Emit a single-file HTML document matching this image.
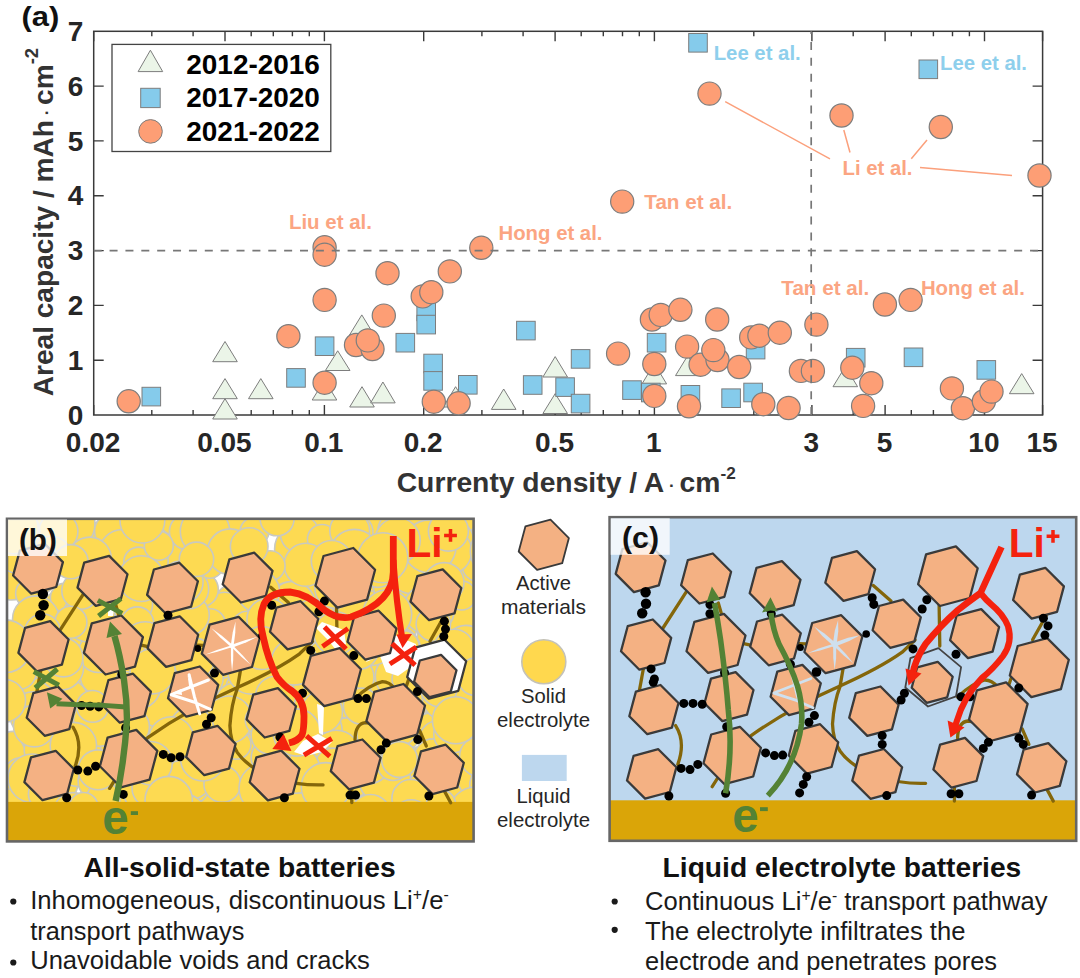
<!DOCTYPE html>
<html><head><meta charset="utf-8"><title>Figure</title>
<style>html,body{margin:0;padding:0;background:#fff}svg{display:block}text{font-family:"Liberation Sans",sans-serif}</style>
</head><body>
<svg width="1080" height="978" viewBox="0 0 1080 978">
<rect width="1080" height="978" fill="#fff"/>
<rect x="93.7" y="31.3" width="948.8999999999999" height="383.7" fill="none" stroke="#3a3a3a" stroke-width="1.5"/>
<path d="M93.7 415.0v-10M93.7 31.3v10M225.0 415.0v-10M225.0 31.3v10M324.4 415.0v-10M324.4 31.3v10M423.7 415.0v-10M423.7 31.3v10M555.1 415.0v-10M555.1 31.3v10M654.4 415.0v-10M654.4 31.3v10M811.9 415.0v-10M811.9 31.3v10M885.1 415.0v-10M885.1 31.3v10M984.5 415.0v-10M984.5 31.3v10M1042.6 415.0v-10M1042.6 31.3v10M151.8 415.0v-5M151.8 31.3v5M193.1 415.0v-5M193.1 31.3v5M251.2 415.0v-5M251.2 31.3v5M273.3 415.0v-5M273.3 31.3v5M292.4 415.0v-5M292.4 31.3v5M309.3 415.0v-5M309.3 31.3v5M481.9 415.0v-5M481.9 31.3v5M523.1 415.0v-5M523.1 31.3v5M581.2 415.0v-5M581.2 31.3v5M603.3 415.0v-5M603.3 31.3v5M622.5 415.0v-5M622.5 31.3v5M639.3 415.0v-5M639.3 31.3v5M753.8 415.0v-5M753.8 31.3v5M853.2 415.0v-5M853.2 31.3v5M911.3 415.0v-5M911.3 31.3v5M933.4 415.0v-5M933.4 31.3v5M952.5 415.0v-5M952.5 31.3v5M969.4 415.0v-5M969.4 31.3v5M93.7 360.2h10M1042.6 360.2h-10M93.7 305.4h10M1042.6 305.4h-10M93.7 250.6h10M1042.6 250.6h-10M93.7 195.8h10M1042.6 195.8h-10M93.7 140.9h10M1042.6 140.9h-10M93.7 86.1h10M1042.6 86.1h-10" stroke="#3a3a3a" stroke-width="1.4" fill="none"/>
<path d="M225 341.5L212.7 361.7L237.3 361.7Z" fill="#EBF5E8" stroke="#7d7d7d" stroke-width="1"/>
<path d="M225 378.6L212.7 398.7L237.3 398.7Z" fill="#EBF5E8" stroke="#7d7d7d" stroke-width="1"/>
<path d="M225 398.7L212.7 419L237.3 419Z" fill="#EBF5E8" stroke="#7d7d7d" stroke-width="1"/>
<path d="M260.8 378.6L248.5 398.7L273.1 398.7Z" fill="#EBF5E8" stroke="#7d7d7d" stroke-width="1"/>
<path d="M324.5 380L312.2 400L336.8 400Z" fill="#EBF5E8" stroke="#7d7d7d" stroke-width="1"/>
<path d="M337.7 350.8L325.4 370.5L350.0 370.5Z" fill="#EBF5E8" stroke="#7d7d7d" stroke-width="1"/>
<path d="M361.8 314.9L349.5 335L374.1 335Z" fill="#EBF5E8" stroke="#7d7d7d" stroke-width="1"/>
<path d="M362 386.7L349.7 407L374.3 407Z" fill="#EBF5E8" stroke="#7d7d7d" stroke-width="1"/>
<path d="M382.9 382L370.59999999999997 402.9L395.2 402.9Z" fill="#EBF5E8" stroke="#7d7d7d" stroke-width="1"/>
<path d="M455.6 386.7L443.3 407L467.90000000000003 407Z" fill="#EBF5E8" stroke="#7d7d7d" stroke-width="1"/>
<path d="M503.7 389L491.4 409.4L516.0 409.4Z" fill="#EBF5E8" stroke="#7d7d7d" stroke-width="1"/>
<path d="M555.2 356.6L542.9000000000001 377L567.5 377Z" fill="#EBF5E8" stroke="#7d7d7d" stroke-width="1"/>
<path d="M555.2 393.6L542.9000000000001 413.5L567.5 413.5Z" fill="#EBF5E8" stroke="#7d7d7d" stroke-width="1"/>
<path d="M654.3 363.5L642.0 383.9L666.5999999999999 383.9Z" fill="#EBF5E8" stroke="#7d7d7d" stroke-width="1"/>
<path d="M687.8 355.5L675.5 375.6L700.0999999999999 375.6Z" fill="#EBF5E8" stroke="#7d7d7d" stroke-width="1"/>
<path d="M845.3 366.5L833.0 386.7L857.5999999999999 386.7Z" fill="#EBF5E8" stroke="#7d7d7d" stroke-width="1"/>
<path d="M1021.7 373.6L1009.4000000000001 393.7L1034.0 393.7Z" fill="#EBF5E8" stroke="#7d7d7d" stroke-width="1"/>
<rect x="142.0" y="387.3" width="18.6" height="18.6" fill="#85CBEB" stroke="#7d7d7d" stroke-width="1"/>
<rect x="286.7" y="368.6" width="18.6" height="18.6" fill="#85CBEB" stroke="#7d7d7d" stroke-width="1"/>
<rect x="315.3" y="336.9" width="18.6" height="18.6" fill="#85CBEB" stroke="#7d7d7d" stroke-width="1"/>
<rect x="396.0" y="333.4" width="18.6" height="18.6" fill="#85CBEB" stroke="#7d7d7d" stroke-width="1"/>
<rect x="416.9" y="302.1" width="18.6" height="18.6" fill="#85CBEB" stroke="#7d7d7d" stroke-width="1"/>
<rect x="416.9" y="315.3" width="18.6" height="18.6" fill="#85CBEB" stroke="#7d7d7d" stroke-width="1"/>
<rect x="423.8" y="354.2" width="18.6" height="18.6" fill="#85CBEB" stroke="#7d7d7d" stroke-width="1"/>
<rect x="423.8" y="371.6" width="18.6" height="18.6" fill="#85CBEB" stroke="#7d7d7d" stroke-width="1"/>
<rect x="458.5" y="375.5" width="18.6" height="18.6" fill="#85CBEB" stroke="#7d7d7d" stroke-width="1"/>
<rect x="516.6" y="321.3" width="18.6" height="18.6" fill="#85CBEB" stroke="#7d7d7d" stroke-width="1"/>
<rect x="523.4" y="375.7" width="18.6" height="18.6" fill="#85CBEB" stroke="#7d7d7d" stroke-width="1"/>
<rect x="555.8" y="377.8" width="18.6" height="18.6" fill="#85CBEB" stroke="#7d7d7d" stroke-width="1"/>
<rect x="571.3" y="349.6" width="18.6" height="18.6" fill="#85CBEB" stroke="#7d7d7d" stroke-width="1"/>
<rect x="571.3" y="394.3" width="18.6" height="18.6" fill="#85CBEB" stroke="#7d7d7d" stroke-width="1"/>
<rect x="622.7" y="380.8" width="18.6" height="18.6" fill="#85CBEB" stroke="#7d7d7d" stroke-width="1"/>
<rect x="647.3" y="333.4" width="18.6" height="18.6" fill="#85CBEB" stroke="#7d7d7d" stroke-width="1"/>
<rect x="641.5" y="383.2" width="18.6" height="18.6" fill="#85CBEB" stroke="#7d7d7d" stroke-width="1"/>
<rect x="681.1" y="385.5" width="18.6" height="18.6" fill="#85CBEB" stroke="#7d7d7d" stroke-width="1"/>
<rect x="721.8" y="388.9" width="18.6" height="18.6" fill="#85CBEB" stroke="#7d7d7d" stroke-width="1"/>
<rect x="743.8" y="383.2" width="18.6" height="18.6" fill="#85CBEB" stroke="#7d7d7d" stroke-width="1"/>
<rect x="746.3" y="340.3" width="18.6" height="18.6" fill="#85CBEB" stroke="#7d7d7d" stroke-width="1"/>
<rect x="846.4" y="348.4" width="18.6" height="18.6" fill="#85CBEB" stroke="#7d7d7d" stroke-width="1"/>
<rect x="904.2" y="348.0" width="18.6" height="18.6" fill="#85CBEB" stroke="#7d7d7d" stroke-width="1"/>
<rect x="977.0" y="360.6" width="18.6" height="18.6" fill="#85CBEB" stroke="#7d7d7d" stroke-width="1"/>
<rect x="688.7" y="33.5" width="18.6" height="18.6" fill="#85CBEB" stroke="#7d7d7d" stroke-width="1"/>
<rect x="919.0" y="60.0" width="18.6" height="18.6" fill="#85CBEB" stroke="#7d7d7d" stroke-width="1"/>
<circle cx="128.7" cy="401.3" r="11.6" fill="#FD9E75" stroke="#7d7d7d" stroke-width="1.2"/>
<circle cx="288.4" cy="336.2" r="11.6" fill="#FD9E75" stroke="#7d7d7d" stroke-width="1.2"/>
<circle cx="324.6" cy="247.3" r="11.6" fill="#FD9E75" stroke="#7d7d7d" stroke-width="1.2"/>
<circle cx="324.6" cy="254.7" r="11.6" fill="#FD9E75" stroke="#7d7d7d" stroke-width="1.2"/>
<circle cx="324.6" cy="299.9" r="11.6" fill="#FD9E75" stroke="#7d7d7d" stroke-width="1.2"/>
<circle cx="324.6" cy="382.7" r="11.6" fill="#FD9E75" stroke="#7d7d7d" stroke-width="1.2"/>
<circle cx="356" cy="345" r="11.6" fill="#FD9E75" stroke="#7d7d7d" stroke-width="1.2"/>
<circle cx="372.5" cy="349" r="11.6" fill="#FD9E75" stroke="#7d7d7d" stroke-width="1.2"/>
<circle cx="367.8" cy="340.4" r="11.6" fill="#FD9E75" stroke="#7d7d7d" stroke-width="1.2"/>
<circle cx="387.5" cy="273.2" r="11.6" fill="#FD9E75" stroke="#7d7d7d" stroke-width="1.2"/>
<circle cx="383.8" cy="315.6" r="11.6" fill="#FD9E75" stroke="#7d7d7d" stroke-width="1.2"/>
<circle cx="422.7" cy="296.4" r="11.6" fill="#FD9E75" stroke="#7d7d7d" stroke-width="1.2"/>
<circle cx="431.3" cy="292.2" r="11.6" fill="#FD9E75" stroke="#7d7d7d" stroke-width="1.2"/>
<circle cx="449.8" cy="271.4" r="11.6" fill="#FD9E75" stroke="#7d7d7d" stroke-width="1.2"/>
<circle cx="481.3" cy="247.8" r="11.6" fill="#FD9E75" stroke="#7d7d7d" stroke-width="1.2"/>
<circle cx="433.8" cy="401.7" r="11.6" fill="#FD9E75" stroke="#7d7d7d" stroke-width="1.2"/>
<circle cx="458.6" cy="403.3" r="11.6" fill="#FD9E75" stroke="#7d7d7d" stroke-width="1.2"/>
<circle cx="618.1" cy="353.6" r="11.6" fill="#FD9E75" stroke="#7d7d7d" stroke-width="1.2"/>
<circle cx="651.9" cy="319.5" r="11.6" fill="#FD9E75" stroke="#7d7d7d" stroke-width="1.2"/>
<circle cx="660.7" cy="314.9" r="11.6" fill="#FD9E75" stroke="#7d7d7d" stroke-width="1.2"/>
<circle cx="680.4" cy="309.8" r="11.6" fill="#FD9E75" stroke="#7d7d7d" stroke-width="1.2"/>
<circle cx="654.3" cy="364" r="11.6" fill="#FD9E75" stroke="#7d7d7d" stroke-width="1.2"/>
<circle cx="654.3" cy="395.9" r="11.6" fill="#FD9E75" stroke="#7d7d7d" stroke-width="1.2"/>
<circle cx="717.2" cy="319.5" r="11.6" fill="#FD9E75" stroke="#7d7d7d" stroke-width="1.2"/>
<circle cx="687.1" cy="346.6" r="11.6" fill="#FD9E75" stroke="#7d7d7d" stroke-width="1.2"/>
<circle cx="700.6" cy="364.7" r="11.6" fill="#FD9E75" stroke="#7d7d7d" stroke-width="1.2"/>
<circle cx="717.5" cy="360" r="11.6" fill="#FD9E75" stroke="#7d7d7d" stroke-width="1.2"/>
<circle cx="713.3" cy="350.1" r="11.6" fill="#FD9E75" stroke="#7d7d7d" stroke-width="1.2"/>
<circle cx="739.2" cy="367" r="11.6" fill="#FD9E75" stroke="#7d7d7d" stroke-width="1.2"/>
<circle cx="689" cy="406.3" r="11.6" fill="#FD9E75" stroke="#7d7d7d" stroke-width="1.2"/>
<circle cx="751.2" cy="337.4" r="11.6" fill="#FD9E75" stroke="#7d7d7d" stroke-width="1.2"/>
<circle cx="759.4" cy="335.7" r="11.6" fill="#FD9E75" stroke="#7d7d7d" stroke-width="1.2"/>
<circle cx="779.8" cy="332.7" r="11.6" fill="#FD9E75" stroke="#7d7d7d" stroke-width="1.2"/>
<circle cx="763.3" cy="404.2" r="11.6" fill="#FD9E75" stroke="#7d7d7d" stroke-width="1.2"/>
<circle cx="788.6" cy="408" r="11.6" fill="#FD9E75" stroke="#7d7d7d" stroke-width="1.2"/>
<circle cx="800.9" cy="370.9" r="11.6" fill="#FD9E75" stroke="#7d7d7d" stroke-width="1.2"/>
<circle cx="812.9" cy="370.9" r="11.6" fill="#FD9E75" stroke="#7d7d7d" stroke-width="1.2"/>
<circle cx="816.4" cy="324.6" r="11.6" fill="#FD9E75" stroke="#7d7d7d" stroke-width="1.2"/>
<circle cx="852.3" cy="367.7" r="11.6" fill="#FD9E75" stroke="#7d7d7d" stroke-width="1.2"/>
<circle cx="871.3" cy="383.2" r="11.6" fill="#FD9E75" stroke="#7d7d7d" stroke-width="1.2"/>
<circle cx="863.1" cy="405.9" r="11.6" fill="#FD9E75" stroke="#7d7d7d" stroke-width="1.2"/>
<circle cx="884.9" cy="304.5" r="11.6" fill="#FD9E75" stroke="#7d7d7d" stroke-width="1.2"/>
<circle cx="910.6" cy="299.9" r="11.6" fill="#FD9E75" stroke="#7d7d7d" stroke-width="1.2"/>
<circle cx="951.9" cy="388.4" r="11.6" fill="#FD9E75" stroke="#7d7d7d" stroke-width="1.2"/>
<circle cx="962.9" cy="408.2" r="11.6" fill="#FD9E75" stroke="#7d7d7d" stroke-width="1.2"/>
<circle cx="983.9" cy="401.2" r="11.6" fill="#FD9E75" stroke="#7d7d7d" stroke-width="1.2"/>
<circle cx="991.5" cy="391.6" r="11.6" fill="#FD9E75" stroke="#7d7d7d" stroke-width="1.2"/>
<circle cx="709.5" cy="93.6" r="11.6" fill="#FD9E75" stroke="#7d7d7d" stroke-width="1.2"/>
<circle cx="622.2" cy="201.6" r="11.6" fill="#FD9E75" stroke="#7d7d7d" stroke-width="1.2"/>
<circle cx="841.5" cy="115.5" r="11.6" fill="#FD9E75" stroke="#7d7d7d" stroke-width="1.2"/>
<circle cx="940.8" cy="127" r="11.6" fill="#FD9E75" stroke="#7d7d7d" stroke-width="1.2"/>
<circle cx="1039.5" cy="175.5" r="11.6" fill="#FD9E75" stroke="#7d7d7d" stroke-width="1.2"/>
<path d="M93.7 250.6H1042.6" stroke="#777" stroke-width="1.7" stroke-dasharray="8 7.87" fill="none"/>
<path d="M811.2 415.0V31.3" stroke="#777" stroke-width="1.7" stroke-dasharray="8 7.87" fill="none"/>
<path d="M725.2 101.7L830 158.8M843.8 130L850 152.5M927 140L911.3 158.8M920 167.5L1012 175.5" stroke="#FBA07C" stroke-width="1.5" fill="none"/>
<text x="713.7" y="59.9" font-size="20.3" font-weight="bold" fill="#8ECFEC" text-anchor="start" textLength="87" lengthAdjust="spacingAndGlyphs">Lee et al.</text>
<text x="940" y="70" font-size="20.3" font-weight="bold" fill="#8ECFEC" text-anchor="start" textLength="87" lengthAdjust="spacingAndGlyphs">Lee et al.</text>
<text x="842.5" y="174.5" font-size="20.3" font-weight="bold" fill="#FBA582" text-anchor="start" textLength="70" lengthAdjust="spacingAndGlyphs">Li et al.</text>
<text x="644.3" y="209.4" font-size="20.3" font-weight="bold" fill="#FBA582" text-anchor="start" textLength="88" lengthAdjust="spacingAndGlyphs">Tan et al.</text>
<text x="288.9" y="229" font-size="20.3" font-weight="bold" fill="#FBA582" text-anchor="start" textLength="83" lengthAdjust="spacingAndGlyphs">Liu et al.</text>
<text x="498.5" y="240.3" font-size="20.3" font-weight="bold" fill="#FBA582" text-anchor="start" textLength="104" lengthAdjust="spacingAndGlyphs">Hong et al.</text>
<text x="781.3" y="294.8" font-size="20.3" font-weight="bold" fill="#FBA582" text-anchor="start" textLength="88" lengthAdjust="spacingAndGlyphs">Tan et al.</text>
<text x="920.9" y="294.8" font-size="20.3" font-weight="bold" fill="#FBA582" text-anchor="start" textLength="104" lengthAdjust="spacingAndGlyphs">Hong et al.</text>
<text x="83.4" y="424.6" font-size="28" font-weight="bold" fill="#262626" text-anchor="end">0</text>
<text x="83.4" y="369.79" font-size="28" font-weight="bold" fill="#262626" text-anchor="end">1</text>
<text x="83.4" y="314.98" font-size="28" font-weight="bold" fill="#262626" text-anchor="end">2</text>
<text x="83.4" y="260.17" font-size="28" font-weight="bold" fill="#262626" text-anchor="end">3</text>
<text x="83.4" y="205.35999999999999" font-size="28" font-weight="bold" fill="#262626" text-anchor="end">4</text>
<text x="83.4" y="150.54999999999998" font-size="28" font-weight="bold" fill="#262626" text-anchor="end">5</text>
<text x="83.4" y="95.73999999999998" font-size="28" font-weight="bold" fill="#262626" text-anchor="end">6</text>
<text x="83.4" y="40.929999999999986" font-size="28" font-weight="bold" fill="#262626" text-anchor="end">7</text>
<text x="93.1" y="452.2" font-size="28" font-weight="bold" fill="#262626" text-anchor="middle">0.02</text>
<text x="224.4" y="452.2" font-size="28" font-weight="bold" fill="#262626" text-anchor="middle">0.05</text>
<text x="323.8" y="452.2" font-size="28" font-weight="bold" fill="#262626" text-anchor="middle">0.1</text>
<text x="423.1" y="452.2" font-size="28" font-weight="bold" fill="#262626" text-anchor="middle">0.2</text>
<text x="554.5" y="452.2" font-size="28" font-weight="bold" fill="#262626" text-anchor="middle">0.5</text>
<text x="653.8" y="452.2" font-size="28" font-weight="bold" fill="#262626" text-anchor="middle">1</text>
<text x="811.3" y="452.2" font-size="28" font-weight="bold" fill="#262626" text-anchor="middle">3</text>
<text x="884.5" y="452.2" font-size="28" font-weight="bold" fill="#262626" text-anchor="middle">5</text>
<text x="983.9" y="452.2" font-size="28" font-weight="bold" fill="#262626" text-anchor="middle">10</text>
<text x="1042.0" y="452.2" font-size="28" font-weight="bold" fill="#262626" text-anchor="middle">15</text>
<text x="396.7" y="492.2" font-size="28" font-weight="bold" fill="#333" textLength="339" lengthAdjust="spacingAndGlyphs">Currenty density / A<tspan font-size="17" dy="-1"> · </tspan><tspan dy="1">cm</tspan><tspan font-size="17" dy="-13">-2</tspan></text>
<text transform="translate(53 396.3) rotate(-90)" font-size="28" font-weight="bold" fill="#333" textLength="348.5" lengthAdjust="spacingAndGlyphs">Areal capacity / mAh<tspan font-size="17" dy="-1"> · </tspan><tspan dy="1">cm</tspan><tspan font-size="18.5" dy="-15.5">-2</tspan></text>
<text x="21.5" y="25.6" font-size="28" font-weight="bold" fill="#111" text-anchor="start" textLength="37.8" lengthAdjust="spacingAndGlyphs">(a)</text>
<rect x="112" y="44.4" width="218.8" height="107.1" fill="#fff" stroke="#444" stroke-width="1.3"/>
<path d="M150.4 50.2L138.1 71.6L162.7 71.6Z" fill="#EBF5E8" stroke="#7d7d7d" stroke-width="1"/>
<rect x="140.7" y="88.3" width="19.5" height="19.3" fill="#85CBEB" stroke="#7d7d7d" stroke-width="1"/>
<circle cx="150.5" cy="131.4" r="11.8" fill="#FD9E75" stroke="#7d7d7d" stroke-width="1"/>
<text x="186.3" y="74" font-size="28" font-weight="bold" fill="#000" text-anchor="start" textLength="133.6" lengthAdjust="spacingAndGlyphs">2012-2016</text>
<text x="186.3" y="107.2" font-size="28" font-weight="bold" fill="#000" text-anchor="start" textLength="133.6" lengthAdjust="spacingAndGlyphs">2017-2020</text>
<text x="186.3" y="140.6" font-size="28" font-weight="bold" fill="#000" text-anchor="start" textLength="133.6" lengthAdjust="spacingAndGlyphs">2021-2022</text>
<clipPath id="clipb"><rect x="7.0" y="518.8" width="466.6" height="322.6"/></clipPath>
<g clip-path="url(#clipb)">
<rect x="7.0" y="518.8" width="466.6" height="322.6" fill="#fff"/>
<circle cx="336.8" cy="628.7" r="22.6" fill="#FDDA52" stroke="#C9C9C0" stroke-width="1.6"/>
<circle cx="208.3" cy="734.6" r="18.2" fill="#FDDA52" stroke="#C9C9C0" stroke-width="1.6"/>
<circle cx="41.9" cy="820.9" r="18.5" fill="#FDDA52" stroke="#C9C9C0" stroke-width="1.6"/>
<circle cx="319.5" cy="614.5" r="21.6" fill="#FDDA52" stroke="#C9C9C0" stroke-width="1.6"/>
<circle cx="463.2" cy="777.0" r="16.0" fill="#FDDA52" stroke="#C9C9C0" stroke-width="1.6"/>
<circle cx="314.7" cy="520.2" r="19.2" fill="#FDDA52" stroke="#C9C9C0" stroke-width="1.6"/>
<circle cx="422.2" cy="764.0" r="17.8" fill="#FDDA52" stroke="#C9C9C0" stroke-width="1.6"/>
<circle cx="13.2" cy="749.5" r="18.1" fill="#FDDA52" stroke="#C9C9C0" stroke-width="1.6"/>
<circle cx="313.2" cy="576.5" r="21.3" fill="#FDDA52" stroke="#C9C9C0" stroke-width="1.6"/>
<circle cx="101.8" cy="539.1" r="17.5" fill="#FDDA52" stroke="#C9C9C0" stroke-width="1.6"/>
<circle cx="221.4" cy="829.6" r="22.3" fill="#FDDA52" stroke="#C9C9C0" stroke-width="1.6"/>
<circle cx="470.5" cy="519.5" r="18.5" fill="#FDDA52" stroke="#C9C9C0" stroke-width="1.6"/>
<circle cx="39.3" cy="735.7" r="18.8" fill="#FDDA52" stroke="#C9C9C0" stroke-width="1.6"/>
<circle cx="314.3" cy="680.6" r="16.8" fill="#FDDA52" stroke="#C9C9C0" stroke-width="1.6"/>
<circle cx="424.7" cy="710.8" r="20.8" fill="#FDDA52" stroke="#C9C9C0" stroke-width="1.6"/>
<circle cx="431.1" cy="731.2" r="18.3" fill="#FDDA52" stroke="#C9C9C0" stroke-width="1.6"/>
<circle cx="251.5" cy="826.4" r="18.9" fill="#FDDA52" stroke="#C9C9C0" stroke-width="1.6"/>
<circle cx="263.6" cy="720.9" r="19.3" fill="#FDDA52" stroke="#C9C9C0" stroke-width="1.6"/>
<circle cx="386.0" cy="833.3" r="21.4" fill="#FDDA52" stroke="#C9C9C0" stroke-width="1.6"/>
<circle cx="372.7" cy="803.1" r="14.1" fill="#FDDA52" stroke="#C9C9C0" stroke-width="1.6"/>
<circle cx="244.6" cy="560.6" r="16.0" fill="#FDDA52" stroke="#C9C9C0" stroke-width="1.6"/>
<circle cx="55.1" cy="715.9" r="22.4" fill="#FDDA52" stroke="#C9C9C0" stroke-width="1.6"/>
<circle cx="177.3" cy="517.0" r="19.2" fill="#FDDA52" stroke="#C9C9C0" stroke-width="1.6"/>
<circle cx="77.0" cy="687.2" r="17.7" fill="#FDDA52" stroke="#C9C9C0" stroke-width="1.6"/>
<circle cx="315.7" cy="742.5" r="17.9" fill="#FDDA52" stroke="#C9C9C0" stroke-width="1.6"/>
<circle cx="211.6" cy="700.5" r="24.4" fill="#FDDA52" stroke="#C9C9C0" stroke-width="1.6"/>
<circle cx="222.3" cy="676.1" r="17.0" fill="#FDDA52" stroke="#C9C9C0" stroke-width="1.6"/>
<circle cx="422.7" cy="790.0" r="17.0" fill="#FDDA52" stroke="#C9C9C0" stroke-width="1.6"/>
<circle cx="274.5" cy="636.4" r="17.5" fill="#FDDA52" stroke="#C9C9C0" stroke-width="1.6"/>
<circle cx="418.7" cy="834.1" r="20.3" fill="#FDDA52" stroke="#C9C9C0" stroke-width="1.6"/>
<circle cx="52.0" cy="528.6" r="26.2" fill="#FDDA52" stroke="#C9C9C0" stroke-width="1.6"/>
<circle cx="299.2" cy="548.9" r="24.6" fill="#FDDA52" stroke="#C9C9C0" stroke-width="1.6"/>
<circle cx="317.1" cy="593.9" r="23.1" fill="#FDDA52" stroke="#C9C9C0" stroke-width="1.6"/>
<circle cx="11.8" cy="579.8" r="20.2" fill="#FDDA52" stroke="#C9C9C0" stroke-width="1.6"/>
<circle cx="308.5" cy="698.2" r="20.6" fill="#FDDA52" stroke="#C9C9C0" stroke-width="1.6"/>
<circle cx="254.3" cy="618.9" r="23.5" fill="#FDDA52" stroke="#C9C9C0" stroke-width="1.6"/>
<circle cx="232.5" cy="768.9" r="24.0" fill="#FDDA52" stroke="#C9C9C0" stroke-width="1.6"/>
<circle cx="272.5" cy="682.6" r="19.3" fill="#FDDA52" stroke="#C9C9C0" stroke-width="1.6"/>
<circle cx="41.0" cy="677.5" r="20.9" fill="#FDDA52" stroke="#C9C9C0" stroke-width="1.6"/>
<circle cx="355.1" cy="779.4" r="17.3" fill="#FDDA52" stroke="#C9C9C0" stroke-width="1.6"/>
<circle cx="418.7" cy="677.5" r="22.0" fill="#FDDA52" stroke="#C9C9C0" stroke-width="1.6"/>
<circle cx="101.9" cy="590.6" r="22.3" fill="#FDDA52" stroke="#C9C9C0" stroke-width="1.6"/>
<circle cx="414.0" cy="699.5" r="17.1" fill="#FDDA52" stroke="#C9C9C0" stroke-width="1.6"/>
<circle cx="341.0" cy="574.1" r="20.5" fill="#FDDA52" stroke="#C9C9C0" stroke-width="1.6"/>
<circle cx="118.7" cy="531.9" r="23.0" fill="#FDDA52" stroke="#C9C9C0" stroke-width="1.6"/>
<circle cx="249.4" cy="757.7" r="23.2" fill="#FDDA52" stroke="#C9C9C0" stroke-width="1.6"/>
<circle cx="106.9" cy="738.4" r="19.0" fill="#FDDA52" stroke="#C9C9C0" stroke-width="1.6"/>
<circle cx="340.8" cy="803.5" r="15.3" fill="#FDDA52" stroke="#C9C9C0" stroke-width="1.6"/>
<circle cx="369.5" cy="698.1" r="26.2" fill="#FDDA52" stroke="#C9C9C0" stroke-width="1.6"/>
<circle cx="138.8" cy="693.3" r="26.9" fill="#FDDA52" stroke="#C9C9C0" stroke-width="1.6"/>
<circle cx="435.3" cy="817.6" r="26.4" fill="#FDDA52" stroke="#C9C9C0" stroke-width="1.6"/>
<circle cx="217.1" cy="534.9" r="18.1" fill="#FDDA52" stroke="#C9C9C0" stroke-width="1.6"/>
<circle cx="445.0" cy="697.6" r="22.8" fill="#FDDA52" stroke="#C9C9C0" stroke-width="1.6"/>
<circle cx="60.1" cy="763.6" r="17.9" fill="#FDDA52" stroke="#C9C9C0" stroke-width="1.6"/>
<circle cx="68.5" cy="524.2" r="26.4" fill="#FDDA52" stroke="#C9C9C0" stroke-width="1.6"/>
<circle cx="394.8" cy="603.8" r="19.3" fill="#FDDA52" stroke="#C9C9C0" stroke-width="1.6"/>
<circle cx="123.5" cy="616.4" r="24.7" fill="#FDDA52" stroke="#C9C9C0" stroke-width="1.6"/>
<circle cx="366.0" cy="731.0" r="17.5" fill="#FDDA52" stroke="#C9C9C0" stroke-width="1.6"/>
<circle cx="373.2" cy="590.8" r="25.5" fill="#FDDA52" stroke="#C9C9C0" stroke-width="1.6"/>
<circle cx="52.0" cy="780.2" r="26.5" fill="#FDDA52" stroke="#C9C9C0" stroke-width="1.6"/>
<circle cx="119.8" cy="706.3" r="15.5" fill="#FDDA52" stroke="#C9C9C0" stroke-width="1.6"/>
<circle cx="292.2" cy="824.1" r="18.5" fill="#FDDA52" stroke="#C9C9C0" stroke-width="1.6"/>
<circle cx="347.8" cy="735.3" r="17.6" fill="#FDDA52" stroke="#C9C9C0" stroke-width="1.6"/>
<circle cx="146.6" cy="797.8" r="21.8" fill="#FDDA52" stroke="#C9C9C0" stroke-width="1.6"/>
<circle cx="384.6" cy="778.4" r="25.9" fill="#FDDA52" stroke="#C9C9C0" stroke-width="1.6"/>
<circle cx="241.9" cy="588.2" r="18.3" fill="#FDDA52" stroke="#C9C9C0" stroke-width="1.6"/>
<circle cx="289.8" cy="791.4" r="22.2" fill="#FDDA52" stroke="#C9C9C0" stroke-width="1.6"/>
<circle cx="151.4" cy="648.2" r="17.6" fill="#FDDA52" stroke="#C9C9C0" stroke-width="1.6"/>
<circle cx="491.3" cy="542.4" r="23.1" fill="#FDDA52" stroke="#C9C9C0" stroke-width="1.6"/>
<circle cx="110.1" cy="623.5" r="21.5" fill="#FDDA52" stroke="#C9C9C0" stroke-width="1.6"/>
<circle cx="235.9" cy="529.6" r="18.4" fill="#FDDA52" stroke="#C9C9C0" stroke-width="1.6"/>
<circle cx="415.6" cy="582.1" r="21.9" fill="#FDDA52" stroke="#C9C9C0" stroke-width="1.6"/>
<circle cx="100.9" cy="836.0" r="23.9" fill="#FDDA52" stroke="#C9C9C0" stroke-width="1.6"/>
<circle cx="154.2" cy="595.7" r="17.6" fill="#FDDA52" stroke="#C9C9C0" stroke-width="1.6"/>
<circle cx="279.1" cy="809.4" r="19.0" fill="#FDDA52" stroke="#C9C9C0" stroke-width="1.6"/>
<circle cx="221.5" cy="661.7" r="16.7" fill="#FDDA52" stroke="#C9C9C0" stroke-width="1.6"/>
<circle cx="423.8" cy="653.1" r="14.0" fill="#FDDA52" stroke="#C9C9C0" stroke-width="1.6"/>
<circle cx="438.3" cy="637.3" r="21.1" fill="#FDDA52" stroke="#C9C9C0" stroke-width="1.6"/>
<circle cx="299.4" cy="810.5" r="17.8" fill="#FDDA52" stroke="#C9C9C0" stroke-width="1.6"/>
<circle cx="112.7" cy="531.2" r="18.1" fill="#FDDA52" stroke="#C9C9C0" stroke-width="1.6"/>
<circle cx="339.2" cy="822.4" r="20.6" fill="#FDDA52" stroke="#C9C9C0" stroke-width="1.6"/>
<circle cx="19.2" cy="550.6" r="23.0" fill="#FDDA52" stroke="#C9C9C0" stroke-width="1.6"/>
<circle cx="504.0" cy="741.4" r="14.9" fill="#FDDA52" stroke="#C9C9C0" stroke-width="1.6"/>
<circle cx="472.0" cy="792.4" r="17.9" fill="#FDDA52" stroke="#C9C9C0" stroke-width="1.6"/>
<circle cx="254.5" cy="531.6" r="14.4" fill="#FDDA52" stroke="#C9C9C0" stroke-width="1.6"/>
<circle cx="497.6" cy="589.3" r="19.8" fill="#FDDA52" stroke="#C9C9C0" stroke-width="1.6"/>
<circle cx="103.4" cy="755.7" r="20.1" fill="#FDDA52" stroke="#C9C9C0" stroke-width="1.6"/>
<circle cx="417.9" cy="531.1" r="19.4" fill="#FDDA52" stroke="#C9C9C0" stroke-width="1.6"/>
<circle cx="203.0" cy="676.8" r="19.7" fill="#FDDA52" stroke="#C9C9C0" stroke-width="1.6"/>
<circle cx="279.2" cy="590.0" r="23.3" fill="#FDDA52" stroke="#C9C9C0" stroke-width="1.6"/>
<circle cx="299.5" cy="533.7" r="19.1" fill="#FDDA52" stroke="#C9C9C0" stroke-width="1.6"/>
<circle cx="246.9" cy="689.9" r="21.3" fill="#FDDA52" stroke="#C9C9C0" stroke-width="1.6"/>
<circle cx="390.8" cy="710.8" r="15.2" fill="#FDDA52" stroke="#C9C9C0" stroke-width="1.6"/>
<circle cx="57.7" cy="829.3" r="21.1" fill="#FDDA52" stroke="#C9C9C0" stroke-width="1.6"/>
<circle cx="377.7" cy="569.0" r="18.4" fill="#FDDA52" stroke="#C9C9C0" stroke-width="1.6"/>
<circle cx="497.2" cy="612.1" r="22.3" fill="#FDDA52" stroke="#C9C9C0" stroke-width="1.6"/>
<circle cx="403.5" cy="734.1" r="16.5" fill="#FDDA52" stroke="#C9C9C0" stroke-width="1.6"/>
<circle cx="78.4" cy="760.7" r="25.8" fill="#FDDA52" stroke="#C9C9C0" stroke-width="1.6"/>
<circle cx="322.2" cy="539.3" r="14.8" fill="#FDDA52" stroke="#C9C9C0" stroke-width="1.6"/>
<circle cx="463.5" cy="622.8" r="17.8" fill="#FDDA52" stroke="#C9C9C0" stroke-width="1.6"/>
<circle cx="382.3" cy="525.4" r="23.8" fill="#FDDA52" stroke="#C9C9C0" stroke-width="1.6"/>
<circle cx="23.0" cy="778.1" r="20.9" fill="#FDDA52" stroke="#C9C9C0" stroke-width="1.6"/>
<circle cx="173.7" cy="749.7" r="24.0" fill="#FDDA52" stroke="#C9C9C0" stroke-width="1.6"/>
<circle cx="38.2" cy="576.1" r="18.5" fill="#FDDA52" stroke="#C9C9C0" stroke-width="1.6"/>
<circle cx="315.5" cy="731.4" r="26.8" fill="#FDDA52" stroke="#C9C9C0" stroke-width="1.6"/>
<circle cx="4.8" cy="809.3" r="20.7" fill="#FDDA52" stroke="#C9C9C0" stroke-width="1.6"/>
<circle cx="211.6" cy="793.2" r="15.1" fill="#FDDA52" stroke="#C9C9C0" stroke-width="1.6"/>
<circle cx="196.3" cy="717.9" r="22.0" fill="#FDDA52" stroke="#C9C9C0" stroke-width="1.6"/>
<circle cx="356.3" cy="595.7" r="18.4" fill="#FDDA52" stroke="#C9C9C0" stroke-width="1.6"/>
<circle cx="117.8" cy="703.3" r="19.5" fill="#FDDA52" stroke="#C9C9C0" stroke-width="1.6"/>
<circle cx="454.5" cy="666.9" r="26.8" fill="#FDDA52" stroke="#C9C9C0" stroke-width="1.6"/>
<circle cx="41.8" cy="750.0" r="17.6" fill="#FDDA52" stroke="#C9C9C0" stroke-width="1.6"/>
<circle cx="262.6" cy="777.1" r="15.5" fill="#FDDA52" stroke="#C9C9C0" stroke-width="1.6"/>
<circle cx="145.5" cy="746.4" r="19.8" fill="#FDDA52" stroke="#C9C9C0" stroke-width="1.6"/>
<circle cx="170.4" cy="561.1" r="18.3" fill="#FDDA52" stroke="#C9C9C0" stroke-width="1.6"/>
<circle cx="397.2" cy="626.0" r="19.9" fill="#FDDA52" stroke="#C9C9C0" stroke-width="1.6"/>
<circle cx="230.9" cy="600.4" r="15.0" fill="#FDDA52" stroke="#C9C9C0" stroke-width="1.6"/>
<circle cx="484.7" cy="834.8" r="18.4" fill="#FDDA52" stroke="#C9C9C0" stroke-width="1.6"/>
<circle cx="187.2" cy="783.1" r="23.1" fill="#FDDA52" stroke="#C9C9C0" stroke-width="1.6"/>
<circle cx="224.7" cy="616.1" r="23.9" fill="#FDDA52" stroke="#C9C9C0" stroke-width="1.6"/>
<circle cx="122.4" cy="823.5" r="23.3" fill="#FDDA52" stroke="#C9C9C0" stroke-width="1.6"/>
<circle cx="462.7" cy="614.8" r="26.8" fill="#FDDA52" stroke="#C9C9C0" stroke-width="1.6"/>
<circle cx="454.0" cy="830.9" r="16.5" fill="#FDDA52" stroke="#C9C9C0" stroke-width="1.6"/>
<circle cx="438.2" cy="739.9" r="19.2" fill="#FDDA52" stroke="#C9C9C0" stroke-width="1.6"/>
<circle cx="172.3" cy="700.5" r="21.7" fill="#FDDA52" stroke="#C9C9C0" stroke-width="1.6"/>
<circle cx="134.6" cy="821.6" r="20.7" fill="#FDDA52" stroke="#C9C9C0" stroke-width="1.6"/>
<circle cx="201.0" cy="589.5" r="17.3" fill="#FDDA52" stroke="#C9C9C0" stroke-width="1.6"/>
<circle cx="180.0" cy="633.2" r="18.6" fill="#FDDA52" stroke="#C9C9C0" stroke-width="1.6"/>
<circle cx="440.7" cy="686.1" r="20.9" fill="#FDDA52" stroke="#C9C9C0" stroke-width="1.6"/>
<circle cx="273.6" cy="801.1" r="23.7" fill="#FDDA52" stroke="#C9C9C0" stroke-width="1.6"/>
<circle cx="433.2" cy="758.3" r="19.4" fill="#FDDA52" stroke="#C9C9C0" stroke-width="1.6"/>
<circle cx="290.0" cy="603.8" r="21.9" fill="#FDDA52" stroke="#C9C9C0" stroke-width="1.6"/>
<circle cx="26.1" cy="831.3" r="23.2" fill="#FDDA52" stroke="#C9C9C0" stroke-width="1.6"/>
<circle cx="455.5" cy="792.0" r="23.2" fill="#FDDA52" stroke="#C9C9C0" stroke-width="1.6"/>
<circle cx="302.3" cy="800.9" r="16.6" fill="#FDDA52" stroke="#C9C9C0" stroke-width="1.6"/>
<circle cx="353.6" cy="532.5" r="19.4" fill="#FDDA52" stroke="#C9C9C0" stroke-width="1.6"/>
<circle cx="32.3" cy="778.3" r="24.3" fill="#FDDA52" stroke="#C9C9C0" stroke-width="1.6"/>
<circle cx="284.5" cy="671.9" r="25.9" fill="#FDDA52" stroke="#C9C9C0" stroke-width="1.6"/>
<circle cx="162.5" cy="614.4" r="24.6" fill="#FDDA52" stroke="#C9C9C0" stroke-width="1.6"/>
<circle cx="411.7" cy="570.3" r="23.5" fill="#FDDA52" stroke="#C9C9C0" stroke-width="1.6"/>
<circle cx="133.2" cy="773.1" r="20.4" fill="#FDDA52" stroke="#C9C9C0" stroke-width="1.6"/>
<circle cx="44.8" cy="794.0" r="16.4" fill="#FDDA52" stroke="#C9C9C0" stroke-width="1.6"/>
<circle cx="368.2" cy="760.2" r="23.6" fill="#FDDA52" stroke="#C9C9C0" stroke-width="1.6"/>
<circle cx="292.5" cy="604.0" r="22.5" fill="#FDDA52" stroke="#C9C9C0" stroke-width="1.6"/>
<circle cx="101.6" cy="572.2" r="22.2" fill="#FDDA52" stroke="#C9C9C0" stroke-width="1.6"/>
<circle cx="164.1" cy="734.4" r="18.4" fill="#FDDA52" stroke="#C9C9C0" stroke-width="1.6"/>
<circle cx="396.2" cy="723.3" r="23.5" fill="#FDDA52" stroke="#C9C9C0" stroke-width="1.6"/>
<circle cx="116.0" cy="679.2" r="17.1" fill="#FDDA52" stroke="#C9C9C0" stroke-width="1.6"/>
<circle cx="131.6" cy="672.1" r="20.7" fill="#FDDA52" stroke="#C9C9C0" stroke-width="1.6"/>
<circle cx="301.4" cy="637.9" r="18.8" fill="#FDDA52" stroke="#C9C9C0" stroke-width="1.6"/>
<circle cx="397.1" cy="650.6" r="23.7" fill="#FDDA52" stroke="#C9C9C0" stroke-width="1.6"/>
<circle cx="222.0" cy="722.3" r="22.9" fill="#FDDA52" stroke="#C9C9C0" stroke-width="1.6"/>
<circle cx="496.2" cy="661.4" r="20.1" fill="#FDDA52" stroke="#C9C9C0" stroke-width="1.6"/>
<circle cx="187.4" cy="531.6" r="18.0" fill="#FDDA52" stroke="#C9C9C0" stroke-width="1.6"/>
<circle cx="502.2" cy="792.1" r="17.0" fill="#FDDA52" stroke="#C9C9C0" stroke-width="1.6"/>
<circle cx="481.3" cy="717.0" r="21.2" fill="#FDDA52" stroke="#C9C9C0" stroke-width="1.6"/>
<circle cx="283.9" cy="705.8" r="16.1" fill="#FDDA52" stroke="#C9C9C0" stroke-width="1.6"/>
<circle cx="375.2" cy="630.6" r="17.8" fill="#FDDA52" stroke="#C9C9C0" stroke-width="1.6"/>
<circle cx="81.1" cy="635.5" r="24.8" fill="#FDDA52" stroke="#C9C9C0" stroke-width="1.6"/>
<circle cx="169.0" cy="685.9" r="21.7" fill="#FDDA52" stroke="#C9C9C0" stroke-width="1.6"/>
<circle cx="455.8" cy="539.9" r="17.8" fill="#FDDA52" stroke="#C9C9C0" stroke-width="1.6"/>
<circle cx="235.1" cy="703.0" r="20.0" fill="#FDDA52" stroke="#C9C9C0" stroke-width="1.6"/>
<circle cx="491.0" cy="726.4" r="18.6" fill="#FDDA52" stroke="#C9C9C0" stroke-width="1.6"/>
<circle cx="151.0" cy="561.4" r="17.2" fill="#FDDA52" stroke="#C9C9C0" stroke-width="1.6"/>
<circle cx="68.2" cy="699.3" r="19.7" fill="#FDDA52" stroke="#C9C9C0" stroke-width="1.6"/>
<circle cx="250.9" cy="670.9" r="23.2" fill="#FDDA52" stroke="#C9C9C0" stroke-width="1.6"/>
<circle cx="336.2" cy="754.7" r="24.4" fill="#FDDA52" stroke="#C9C9C0" stroke-width="1.6"/>
<circle cx="480.3" cy="776.1" r="23.6" fill="#FDDA52" stroke="#C9C9C0" stroke-width="1.6"/>
<circle cx="58.4" cy="531.5" r="19.5" fill="#FDDA52" stroke="#C9C9C0" stroke-width="1.6"/>
<circle cx="443.1" cy="571.0" r="16.7" fill="#FDDA52" stroke="#C9C9C0" stroke-width="1.6"/>
<circle cx="134.5" cy="788.4" r="25.2" fill="#FDDA52" stroke="#C9C9C0" stroke-width="1.6"/>
<circle cx="464.0" cy="737.3" r="23.7" fill="#FDDA52" stroke="#C9C9C0" stroke-width="1.6"/>
<circle cx="205.0" cy="531.5" r="24.7" fill="#FDDA52" stroke="#C9C9C0" stroke-width="1.6"/>
<circle cx="364.5" cy="677.6" r="19.6" fill="#FDDA52" stroke="#C9C9C0" stroke-width="1.6"/>
<circle cx="428.9" cy="609.4" r="25.4" fill="#FDDA52" stroke="#C9C9C0" stroke-width="1.6"/>
<circle cx="122.7" cy="553.5" r="24.0" fill="#FDDA52" stroke="#C9C9C0" stroke-width="1.6"/>
<circle cx="66.3" cy="722.9" r="20.0" fill="#FDDA52" stroke="#C9C9C0" stroke-width="1.6"/>
<circle cx="452.3" cy="734.5" r="18.5" fill="#FDDA52" stroke="#C9C9C0" stroke-width="1.6"/>
<circle cx="183.7" cy="631.2" r="22.5" fill="#FDDA52" stroke="#C9C9C0" stroke-width="1.6"/>
<circle cx="305.6" cy="564.8" r="21.5" fill="#FDDA52" stroke="#C9C9C0" stroke-width="1.6"/>
<circle cx="312.5" cy="757.1" r="18.3" fill="#FDDA52" stroke="#C9C9C0" stroke-width="1.6"/>
<circle cx="30.2" cy="593.4" r="14.6" fill="#FDDA52" stroke="#C9C9C0" stroke-width="1.6"/>
<circle cx="349.7" cy="530.8" r="19.9" fill="#FDDA52" stroke="#C9C9C0" stroke-width="1.6"/>
<circle cx="60.0" cy="609.2" r="17.9" fill="#FDDA52" stroke="#C9C9C0" stroke-width="1.6"/>
<circle cx="89.6" cy="558.9" r="21.8" fill="#FDDA52" stroke="#C9C9C0" stroke-width="1.6"/>
<circle cx="101.2" cy="674.9" r="21.2" fill="#FDDA52" stroke="#C9C9C0" stroke-width="1.6"/>
<circle cx="270.1" cy="565.8" r="15.0" fill="#FDDA52" stroke="#C9C9C0" stroke-width="1.6"/>
<circle cx="410.9" cy="798.5" r="19.0" fill="#FDDA52" stroke="#C9C9C0" stroke-width="1.6"/>
<circle cx="314.2" cy="621.0" r="22.0" fill="#FDDA52" stroke="#C9C9C0" stroke-width="1.6"/>
<circle cx="236.3" cy="744.5" r="14.7" fill="#FDDA52" stroke="#C9C9C0" stroke-width="1.6"/>
<circle cx="341.9" cy="691.3" r="15.9" fill="#FDDA52" stroke="#C9C9C0" stroke-width="1.6"/>
<circle cx="138.6" cy="561.9" r="14.8" fill="#FDDA52" stroke="#C9C9C0" stroke-width="1.6"/>
<circle cx="228.8" cy="719.6" r="23.6" fill="#FDDA52" stroke="#C9C9C0" stroke-width="1.6"/>
<circle cx="51.1" cy="556.6" r="20.4" fill="#FDDA52" stroke="#C9C9C0" stroke-width="1.6"/>
<circle cx="378.6" cy="733.9" r="21.7" fill="#FDDA52" stroke="#C9C9C0" stroke-width="1.6"/>
<circle cx="210.1" cy="624.2" r="15.4" fill="#FDDA52" stroke="#C9C9C0" stroke-width="1.6"/>
<circle cx="321.8" cy="668.7" r="19.3" fill="#FDDA52" stroke="#C9C9C0" stroke-width="1.6"/>
<circle cx="476.7" cy="700.9" r="21.8" fill="#FDDA52" stroke="#C9C9C0" stroke-width="1.6"/>
<circle cx="354.4" cy="554.2" r="24.8" fill="#FDDA52" stroke="#C9C9C0" stroke-width="1.6"/>
<circle cx="192.5" cy="827.0" r="23.2" fill="#FDDA52" stroke="#C9C9C0" stroke-width="1.6"/>
<circle cx="64.7" cy="597.7" r="14.3" fill="#FDDA52" stroke="#C9C9C0" stroke-width="1.6"/>
<circle cx="209.4" cy="563.7" r="14.6" fill="#FDDA52" stroke="#C9C9C0" stroke-width="1.6"/>
<circle cx="353.2" cy="677.4" r="20.8" fill="#FDDA52" stroke="#C9C9C0" stroke-width="1.6"/>
<circle cx="411.2" cy="818.3" r="18.6" fill="#FDDA52" stroke="#C9C9C0" stroke-width="1.6"/>
<circle cx="471.3" cy="577.1" r="20.8" fill="#FDDA52" stroke="#C9C9C0" stroke-width="1.6"/>
<circle cx="275.6" cy="696.2" r="20.0" fill="#FDDA52" stroke="#C9C9C0" stroke-width="1.6"/>
<circle cx="332.9" cy="766.3" r="18.2" fill="#FDDA52" stroke="#C9C9C0" stroke-width="1.6"/>
<circle cx="132.5" cy="604.0" r="20.1" fill="#FDDA52" stroke="#C9C9C0" stroke-width="1.6"/>
<circle cx="401.7" cy="531.9" r="23.9" fill="#FDDA52" stroke="#C9C9C0" stroke-width="1.6"/>
<circle cx="243.6" cy="797.8" r="17.7" fill="#FDDA52" stroke="#C9C9C0" stroke-width="1.6"/>
<circle cx="487.7" cy="785.2" r="18.0" fill="#FDDA52" stroke="#C9C9C0" stroke-width="1.6"/>
<circle cx="477.6" cy="565.9" r="15.3" fill="#FDDA52" stroke="#C9C9C0" stroke-width="1.6"/>
<circle cx="402.3" cy="647.3" r="17.0" fill="#FDDA52" stroke="#C9C9C0" stroke-width="1.6"/>
<circle cx="35.7" cy="659.8" r="23.2" fill="#FDDA52" stroke="#C9C9C0" stroke-width="1.6"/>
<circle cx="350.6" cy="836.3" r="16.6" fill="#FDDA52" stroke="#C9C9C0" stroke-width="1.6"/>
<circle cx="331.7" cy="560.9" r="20.4" fill="#FDDA52" stroke="#C9C9C0" stroke-width="1.6"/>
<circle cx="260.3" cy="720.2" r="15.0" fill="#FDDA52" stroke="#C9C9C0" stroke-width="1.6"/>
<circle cx="448.6" cy="551.3" r="23.1" fill="#FDDA52" stroke="#C9C9C0" stroke-width="1.6"/>
<circle cx="84.9" cy="590.9" r="17.6" fill="#FDDA52" stroke="#C9C9C0" stroke-width="1.6"/>
<circle cx="161.1" cy="706.5" r="21.6" fill="#FDDA52" stroke="#C9C9C0" stroke-width="1.6"/>
<circle cx="496.5" cy="551.2" r="26.2" fill="#FDDA52" stroke="#C9C9C0" stroke-width="1.6"/>
<circle cx="461.7" cy="595.5" r="14.5" fill="#FDDA52" stroke="#C9C9C0" stroke-width="1.6"/>
<circle cx="151.4" cy="828.0" r="21.4" fill="#FDDA52" stroke="#C9C9C0" stroke-width="1.6"/>
<circle cx="475.6" cy="813.7" r="26.8" fill="#FDDA52" stroke="#C9C9C0" stroke-width="1.6"/>
<circle cx="316.1" cy="822.2" r="17.4" fill="#FDDA52" stroke="#C9C9C0" stroke-width="1.6"/>
<circle cx="393.0" cy="764.8" r="15.7" fill="#FDDA52" stroke="#C9C9C0" stroke-width="1.6"/>
<circle cx="144.8" cy="756.6" r="26.4" fill="#FDDA52" stroke="#C9C9C0" stroke-width="1.6"/>
<circle cx="245.3" cy="642.9" r="17.4" fill="#FDDA52" stroke="#C9C9C0" stroke-width="1.6"/>
<circle cx="190.4" cy="776.8" r="22.3" fill="#FDDA52" stroke="#C9C9C0" stroke-width="1.6"/>
<circle cx="98.4" cy="652.6" r="19.9" fill="#FDDA52" stroke="#C9C9C0" stroke-width="1.6"/>
<circle cx="247.0" cy="625.6" r="14.4" fill="#FDDA52" stroke="#C9C9C0" stroke-width="1.6"/>
<circle cx="40.3" cy="703.3" r="25.3" fill="#FDDA52" stroke="#C9C9C0" stroke-width="1.6"/>
<circle cx="129.5" cy="726.7" r="19.9" fill="#FDDA52" stroke="#C9C9C0" stroke-width="1.6"/>
<circle cx="207.9" cy="643.2" r="19.2" fill="#FDDA52" stroke="#C9C9C0" stroke-width="1.6"/>
<circle cx="189.5" cy="615.1" r="19.8" fill="#FDDA52" stroke="#C9C9C0" stroke-width="1.6"/>
<circle cx="429.5" cy="546.4" r="26.5" fill="#FDDA52" stroke="#C9C9C0" stroke-width="1.6"/>
<circle cx="245.0" cy="811.5" r="23.7" fill="#FDDA52" stroke="#C9C9C0" stroke-width="1.6"/>
<circle cx="18.6" cy="671.6" r="17.9" fill="#FDDA52" stroke="#C9C9C0" stroke-width="1.6"/>
<circle cx="200.2" cy="677.3" r="23.1" fill="#FDDA52" stroke="#C9C9C0" stroke-width="1.6"/>
<circle cx="137.3" cy="623.4" r="16.5" fill="#FDDA52" stroke="#C9C9C0" stroke-width="1.6"/>
<circle cx="145.2" cy="645.2" r="23.4" fill="#FDDA52" stroke="#C9C9C0" stroke-width="1.6"/>
<circle cx="188.9" cy="589.0" r="19.8" fill="#FDDA52" stroke="#C9C9C0" stroke-width="1.6"/>
<circle cx="222.3" cy="784.0" r="18.4" fill="#FDDA52" stroke="#C9C9C0" stroke-width="1.6"/>
<circle cx="98.9" cy="720.9" r="25.4" fill="#FDDA52" stroke="#C9C9C0" stroke-width="1.6"/>
<circle cx="444.1" cy="582.5" r="19.9" fill="#FDDA52" stroke="#C9C9C0" stroke-width="1.6"/>
<circle cx="158.8" cy="545.8" r="14.5" fill="#FDDA52" stroke="#C9C9C0" stroke-width="1.6"/>
<circle cx="296.1" cy="769.6" r="23.7" fill="#FDDA52" stroke="#C9C9C0" stroke-width="1.6"/>
<circle cx="264.0" cy="788.2" r="25.0" fill="#FDDA52" stroke="#C9C9C0" stroke-width="1.6"/>
<circle cx="362.7" cy="614.2" r="25.0" fill="#FDDA52" stroke="#C9C9C0" stroke-width="1.6"/>
<circle cx="193.4" cy="659.0" r="21.1" fill="#FDDA52" stroke="#C9C9C0" stroke-width="1.6"/>
<circle cx="137.8" cy="685.8" r="23.0" fill="#FDDA52" stroke="#C9C9C0" stroke-width="1.6"/>
<circle cx="33.3" cy="715.1" r="23.3" fill="#FDDA52" stroke="#C9C9C0" stroke-width="1.6"/>
<circle cx="270.7" cy="757.6" r="19.5" fill="#FDDA52" stroke="#C9C9C0" stroke-width="1.6"/>
<circle cx="202.7" cy="758.9" r="22.1" fill="#FDDA52" stroke="#C9C9C0" stroke-width="1.6"/>
<circle cx="325.7" cy="787.0" r="24.4" fill="#FDDA52" stroke="#C9C9C0" stroke-width="1.6"/>
<circle cx="96.3" cy="781.4" r="18.2" fill="#FDDA52" stroke="#C9C9C0" stroke-width="1.6"/>
<circle cx="433.3" cy="624.0" r="17.2" fill="#FDDA52" stroke="#C9C9C0" stroke-width="1.6"/>
<circle cx="466.1" cy="646.1" r="20.7" fill="#FDDA52" stroke="#C9C9C0" stroke-width="1.6"/>
<circle cx="277.1" cy="518.8" r="17.0" fill="#FDDA52" stroke="#C9C9C0" stroke-width="1.6"/>
<circle cx="397.6" cy="540.4" r="22.6" fill="#FDDA52" stroke="#C9C9C0" stroke-width="1.6"/>
<circle cx="129.2" cy="655.2" r="16.8" fill="#FDDA52" stroke="#C9C9C0" stroke-width="1.6"/>
<circle cx="92.6" cy="706.4" r="15.9" fill="#FDDA52" stroke="#C9C9C0" stroke-width="1.6"/>
<circle cx="398.3" cy="676.4" r="23.0" fill="#FDDA52" stroke="#C9C9C0" stroke-width="1.6"/>
<circle cx="407.9" cy="678.7" r="15.9" fill="#FDDA52" stroke="#C9C9C0" stroke-width="1.6"/>
<circle cx="371.8" cy="642.6" r="22.9" fill="#FDDA52" stroke="#C9C9C0" stroke-width="1.6"/>
<circle cx="345.4" cy="700.3" r="17.4" fill="#FDDA52" stroke="#C9C9C0" stroke-width="1.6"/>
<circle cx="488.9" cy="666.4" r="21.8" fill="#FDDA52" stroke="#C9C9C0" stroke-width="1.6"/>
<circle cx="258.5" cy="591.5" r="21.1" fill="#FDDA52" stroke="#C9C9C0" stroke-width="1.6"/>
<circle cx="361.4" cy="706.1" r="18.0" fill="#FDDA52" stroke="#C9C9C0" stroke-width="1.6"/>
<circle cx="504.6" cy="629.1" r="18.0" fill="#FDDA52" stroke="#C9C9C0" stroke-width="1.6"/>
<circle cx="268.1" cy="619.4" r="21.2" fill="#FDDA52" stroke="#C9C9C0" stroke-width="1.6"/>
<circle cx="334.7" cy="588.3" r="19.9" fill="#FDDA52" stroke="#C9C9C0" stroke-width="1.6"/>
<circle cx="39.5" cy="567.0" r="22.3" fill="#FDDA52" stroke="#C9C9C0" stroke-width="1.6"/>
<circle cx="60.8" cy="667.2" r="22.8" fill="#FDDA52" stroke="#C9C9C0" stroke-width="1.6"/>
<circle cx="35.8" cy="619.2" r="23.3" fill="#FDDA52" stroke="#C9C9C0" stroke-width="1.6"/>
<circle cx="327.4" cy="660.2" r="21.4" fill="#FDDA52" stroke="#C9C9C0" stroke-width="1.6"/>
<circle cx="34.4" cy="726.0" r="20.9" fill="#FDDA52" stroke="#C9C9C0" stroke-width="1.6"/>
<circle cx="370.6" cy="814.3" r="19.8" fill="#FDDA52" stroke="#C9C9C0" stroke-width="1.6"/>
<circle cx="479.8" cy="756.5" r="20.2" fill="#FDDA52" stroke="#C9C9C0" stroke-width="1.6"/>
<circle cx="191.6" cy="728.6" r="22.0" fill="#FDDA52" stroke="#C9C9C0" stroke-width="1.6"/>
<circle cx="152.6" cy="671.3" r="22.6" fill="#FDDA52" stroke="#C9C9C0" stroke-width="1.6"/>
<circle cx="497.2" cy="562.5" r="16.6" fill="#FDDA52" stroke="#C9C9C0" stroke-width="1.6"/>
<circle cx="454.0" cy="649.7" r="20.5" fill="#FDDA52" stroke="#C9C9C0" stroke-width="1.6"/>
<circle cx="511.0" cy="691.1" r="17.2" fill="#FDDA52" stroke="#C9C9C0" stroke-width="1.6"/>
<circle cx="321.7" cy="712.1" r="20.8" fill="#FDDA52" stroke="#C9C9C0" stroke-width="1.6"/>
<circle cx="18.1" cy="531.8" r="21.8" fill="#FDDA52" stroke="#C9C9C0" stroke-width="1.6"/>
<circle cx="13.2" cy="528.7" r="25.0" fill="#FDDA52" stroke="#C9C9C0" stroke-width="1.6"/>
<circle cx="106.2" cy="810.6" r="21.8" fill="#FDDA52" stroke="#C9C9C0" stroke-width="1.6"/>
<circle cx="72.6" cy="811.2" r="18.6" fill="#FDDA52" stroke="#C9C9C0" stroke-width="1.6"/>
<circle cx="261.9" cy="648.0" r="21.5" fill="#FDDA52" stroke="#C9C9C0" stroke-width="1.6"/>
<circle cx="399.5" cy="759.5" r="17.9" fill="#FDDA52" stroke="#C9C9C0" stroke-width="1.6"/>
<circle cx="208.5" cy="821.9" r="18.2" fill="#FDDA52" stroke="#C9C9C0" stroke-width="1.6"/>
<circle cx="431.5" cy="598.3" r="15.0" fill="#FDDA52" stroke="#C9C9C0" stroke-width="1.6"/>
<circle cx="43.6" cy="643.9" r="24.2" fill="#FDDA52" stroke="#C9C9C0" stroke-width="1.6"/>
<circle cx="152.5" cy="787.8" r="20.5" fill="#FDDA52" stroke="#C9C9C0" stroke-width="1.6"/>
<circle cx="181.9" cy="582.1" r="21.2" fill="#FDDA52" stroke="#C9C9C0" stroke-width="1.6"/>
<circle cx="269.9" cy="735.3" r="18.8" fill="#FDDA52" stroke="#C9C9C0" stroke-width="1.6"/>
<circle cx="455.9" cy="720.2" r="23.5" fill="#FDDA52" stroke="#C9C9C0" stroke-width="1.6"/>
<circle cx="183.9" cy="817.8" r="23.7" fill="#FDDA52" stroke="#C9C9C0" stroke-width="1.6"/>
<circle cx="359.0" cy="650.1" r="19.2" fill="#FDDA52" stroke="#C9C9C0" stroke-width="1.6"/>
<circle cx="141.3" cy="578.6" r="22.9" fill="#FDDA52" stroke="#C9C9C0" stroke-width="1.6"/>
<circle cx="230.2" cy="551.7" r="22.8" fill="#FDDA52" stroke="#C9C9C0" stroke-width="1.6"/>
<circle cx="88.9" cy="616.3" r="25.7" fill="#FDDA52" stroke="#C9C9C0" stroke-width="1.6"/>
<circle cx="103.3" cy="798.7" r="16.7" fill="#FDDA52" stroke="#C9C9C0" stroke-width="1.6"/>
<circle cx="80.4" cy="590.7" r="18.6" fill="#FDDA52" stroke="#C9C9C0" stroke-width="1.6"/>
<circle cx="387.3" cy="614.1" r="24.4" fill="#FDDA52" stroke="#C9C9C0" stroke-width="1.6"/>
<circle cx="171.3" cy="739.2" r="22.5" fill="#FDDA52" stroke="#C9C9C0" stroke-width="1.6"/>
<circle cx="296.8" cy="732.5" r="23.6" fill="#FDDA52" stroke="#C9C9C0" stroke-width="1.6"/>
<circle cx="352.9" cy="770.3" r="16.9" fill="#FDDA52" stroke="#C9C9C0" stroke-width="1.6"/>
<circle cx="63.5" cy="657.5" r="19.4" fill="#FDDA52" stroke="#C9C9C0" stroke-width="1.6"/>
<circle cx="73.4" cy="745.6" r="23.2" fill="#FDDA52" stroke="#C9C9C0" stroke-width="1.6"/>
<circle cx="70.9" cy="622.2" r="16.0" fill="#FDDA52" stroke="#C9C9C0" stroke-width="1.6"/>
<circle cx="5.0" cy="646.2" r="26.4" fill="#FDDA52" stroke="#C9C9C0" stroke-width="1.6"/>
<circle cx="42.7" cy="631.9" r="17.9" fill="#FDDA52" stroke="#C9C9C0" stroke-width="1.6"/>
<circle cx="83.6" cy="806.8" r="14.3" fill="#FDDA52" stroke="#C9C9C0" stroke-width="1.6"/>
<circle cx="448.4" cy="531.1" r="20.0" fill="#FDDA52" stroke="#C9C9C0" stroke-width="1.6"/>
<circle cx="196.5" cy="559.3" r="17.2" fill="#FDDA52" stroke="#C9C9C0" stroke-width="1.6"/>
<circle cx="476.1" cy="676.8" r="18.8" fill="#FDDA52" stroke="#C9C9C0" stroke-width="1.6"/>
<circle cx="441.0" cy="804.5" r="14.6" fill="#FDDA52" stroke="#C9C9C0" stroke-width="1.6"/>
<circle cx="249.2" cy="546.5" r="18.8" fill="#FDDA52" stroke="#C9C9C0" stroke-width="1.6"/>
<circle cx="294.1" cy="662.1" r="23.0" fill="#FDDA52" stroke="#C9C9C0" stroke-width="1.6"/>
<circle cx="142.4" cy="520.7" r="22.4" fill="#FDDA52" stroke="#C9C9C0" stroke-width="1.6"/>
<circle cx="111.5" cy="643.4" r="21.2" fill="#FDDA52" stroke="#C9C9C0" stroke-width="1.6"/>
<circle cx="98.0" cy="769.8" r="19.9" fill="#FDDA52" stroke="#C9C9C0" stroke-width="1.6"/>
<circle cx="71.0" cy="561.7" r="17.1" fill="#FDDA52" stroke="#C9C9C0" stroke-width="1.6"/>
<circle cx="382.9" cy="557.8" r="25.0" fill="#FDDA52" stroke="#C9C9C0" stroke-width="1.6"/>
<circle cx="150.6" cy="763.2" r="21.7" fill="#FDDA52" stroke="#C9C9C0" stroke-width="1.6"/>
<circle cx="335.5" cy="633.4" r="21.7" fill="#FDDA52" stroke="#C9C9C0" stroke-width="1.6"/>
<circle cx="168.7" cy="800.1" r="23.7" fill="#FDDA52" stroke="#C9C9C0" stroke-width="1.6"/>
<circle cx="4.2" cy="700.7" r="21.4" fill="#FDDA52" stroke="#C9C9C0" stroke-width="1.6"/>
<rect x="7.0" y="801.9" width="466.6" height="45" fill="#DAA508"/>
<g transform="translate(-602.6 1.6)">
<path d="M686.1 592.2L663 628" stroke="#84660A" stroke-width="3.3" fill="none" stroke-linecap="round"/>
<path d="M643.5 668L639.5 690" stroke="#84660A" stroke-width="3.3" fill="none" stroke-linecap="round"/>
<path d="M675.6 725.6Q686 742 677.8 764.4" stroke="#84660A" stroke-width="3.3" fill="none" stroke-linecap="round"/>
<path d="M712.2 786.7L717.8 777.8Q730 750 751.1 735.6Q790 708 840 686Q880 668 902.2 652.2L915 640" stroke="#84660A" stroke-width="3.3" fill="none" stroke-linecap="round"/>
<path d="M843 669L840 686.7Q834 702 832.5 724Q833 740 840 751Q852 768 880 777Q900 784 925.6 783.3" stroke="#84660A" stroke-width="3.3" fill="none" stroke-linecap="round"/>
<path d="M873.3 585.6L891 601" stroke="#84660A" stroke-width="3.3" fill="none" stroke-linecap="round"/>
<path d="M939.1 603.7L939.8 646" stroke="#84660A" stroke-width="3.3" fill="none" stroke-linecap="round"/>
<path d="M1032.6 639.7L1046.4 615.2" stroke="#84660A" stroke-width="3.3" fill="none" stroke-linecap="round"/>
<path d="M957.6 738Q958 722 968 721Q976 721 981 729" stroke="#84660A" stroke-width="3.3" fill="none" stroke-linecap="round"/>
<path d="M1022.2 728.9L1028.9 744.4" stroke="#84660A" stroke-width="3.3" fill="none" stroke-linecap="round"/>
<path d="M1046.7 788.9L1053.3 801.1" stroke="#84660A" stroke-width="3.3" fill="none" stroke-linecap="round"/>
<path d="M954.4 786.7V801" stroke="#84660A" stroke-width="3.3" fill="none" stroke-linecap="round"/>
<path d="M743.7 643.6L750.6 645.1" stroke="#84660A" stroke-width="3.3" fill="none" stroke-linecap="round"/>
<path d="M798.9 643.6L806 643.8" stroke="#84660A" stroke-width="3.3" fill="none" stroke-linecap="round"/>
<path d="M957.6 697Q972 683 985 680Q992 680 997.4 687" stroke="#84660A" stroke-width="3.3" fill="none" stroke-linecap="round"/>
<path d="M1008 687.2L1011.2 678" stroke="#84660A" stroke-width="3.3" fill="none" stroke-linecap="round"/>
<path d="M718.3 603L721.4 613.7" stroke="#84660A" stroke-width="3.3" fill="none" stroke-linecap="round"/>
</g>
<path d="M392 634L416 644L412 666L398 676L386 672L380 656L366 662L372 650Z M303 741L318 734L332 742L322 752L306 756L294 752Z M317 704L324 706L323 735L319 733Z M322 622L344 630L346 644L336 650L328 640L316 628Z M108 609l6 0 -1 7 -5 0Z" fill="#fff"/>
<polygon points="62.9,562.1 56.2,587.0 31.3,593.7 13.1,575.5 19.8,550.6 44.7,543.9" fill="#F4B183" stroke="#3a3a3a" stroke-width="2.3" stroke-linejoin="round"/>
<polygon points="127.5,574.2 120.8,599.2 95.8,605.9 77.5,587.6 84.2,562.6 109.2,555.9" fill="#F4B183" stroke="#3a3a3a" stroke-width="2.3" stroke-linejoin="round"/>
<polygon points="197.9,581.3 191.1,606.7 165.7,613.5 147.1,594.9 153.9,569.5 179.3,562.7" fill="#F4B183" stroke="#3a3a3a" stroke-width="2.3" stroke-linejoin="round"/>
<polygon points="272.5,570.9 265.8,595.8 240.9,602.5 222.7,584.3 229.4,559.4 254.3,552.7" fill="#F4B183" stroke="#3a3a3a" stroke-width="2.3" stroke-linejoin="round"/>
<polygon points="375.1,569.8 367.1,599.6 337.3,607.6 315.5,585.8 323.5,556.0 353.3,548.0" fill="#F4B183" stroke="#3a3a3a" stroke-width="2.3" stroke-linejoin="round"/>
<polygon points="461.3,588.0 454.5,613.4 429.1,620.2 410.5,601.6 417.3,576.2 442.7,569.4" fill="#F4B183" stroke="#3a3a3a" stroke-width="2.3" stroke-linejoin="round"/>
<polygon points="68.6,639.5 61.9,664.6 36.8,671.3 18.4,652.9 25.1,627.8 50.2,621.1" fill="#F4B183" stroke="#3a3a3a" stroke-width="2.3" stroke-linejoin="round"/>
<polygon points="142.9,637.1 135.0,666.6 105.5,674.5 83.9,652.9 91.8,623.4 121.3,615.5" fill="#F4B183" stroke="#3a3a3a" stroke-width="2.3" stroke-linejoin="round"/>
<polygon points="198.2,634.8 191.4,660.1 166.1,666.9 147.6,648.4 154.4,623.1 179.7,616.3" fill="#F4B183" stroke="#3a3a3a" stroke-width="2.3" stroke-linejoin="round"/>
<polygon points="259.8,638.0 252.0,667.0 223.0,674.8 201.8,653.6 209.6,624.6 238.6,616.8" fill="#F4B183" stroke="#3a3a3a" stroke-width="2.3" stroke-linejoin="round"/>
<path transform="translate(230.8 645.8)" d="M2.2 -0.6L-9.2 -10.4L-19.3 -17.6L-10.8 -8.6L0.4 1.4Z" fill="#fff"/>
<path transform="translate(230.8 645.8)" d="M2.7 0.6L4.5 -13.0L4.7 -24.2L1.9 -13.3L-0.1 0.2Z" fill="#fff"/>
<path transform="translate(230.8 645.8)" d="M1.8 1.8L15.7 -3.5L26.6 -8.9L14.8 -5.9L0.8 -1.0Z" fill="#fff"/>
<path transform="translate(230.8 645.8)" d="M0.5 1.2L10.8 11.3L19.9 19.0L12.2 9.9L2.1 -0.4Z" fill="#fff"/>
<path transform="translate(230.8 645.8)" d="M0.1 0.4L0.2 14.3L1.3 25.7L2.4 14.3L2.5 0.4Z" fill="#fff"/>
<path transform="translate(230.8 645.8)" d="M1.0 -0.5L-13.9 4.3L-25.9 9.0L-13.4 5.9L1.6 1.3Z" fill="#fff"/>
<circle cx="232.1" cy="646.2" r="2.2" fill="#fff"/>
<polygon points="318.2,618.8 311.8,643.0 287.6,649.4 270.0,631.8 276.4,607.6 300.6,601.2" fill="#F4B183" stroke="#3a3a3a" stroke-width="2.3" stroke-linejoin="round"/>
<polygon points="396.5,628.6 390.0,653.2 365.4,659.7 347.5,641.8 354.0,617.2 378.6,610.7" fill="#F4B183" stroke="#3a3a3a" stroke-width="2.3" stroke-linejoin="round"/>
<polygon points="75.9,704.6 69.3,729.2 44.7,735.8 26.7,717.8 33.3,693.2 57.9,686.6" fill="#F4B183" stroke="#3a3a3a" stroke-width="2.3" stroke-linejoin="round"/>
<polygon points="150.9,691.6 144.4,716.2 119.8,722.7 101.9,704.8 108.4,680.2 133.0,673.7" fill="#F4B183" stroke="#3a3a3a" stroke-width="2.3" stroke-linejoin="round"/>
<polygon points="218.2,684.9 211.5,710.0 186.4,716.7 168.0,698.3 174.7,673.2 199.8,666.5" fill="#F4B183" stroke="#3a3a3a" stroke-width="2.3" stroke-linejoin="round"/>
<path transform="translate(193.1 691.6)" d="M-21.9 3.1L15.3 -11.6M-4 -16.9L1.3 5.1L6.6 22.3M-21.9 3.1L0.7 10.4L17.3 17.7" stroke="#fff" stroke-width="3.0" fill="none" stroke-linecap="round" stroke-linejoin="round"/>
<path transform="translate(193.1 691.6)" d="M-5.5 -16L-1.5 -6L0 -1L-4 -5ZM-21.5 2L-12 -2.5L-11 3.5Z" fill="#fff"/>
<polygon points="296.0,706.2 289.4,730.9 264.7,737.5 246.6,719.4 253.2,694.7 277.9,688.1" fill="#F4B183" stroke="#3a3a3a" stroke-width="2.3" stroke-linejoin="round"/>
<polygon points="361.0,669.3 353.2,698.3 324.2,706.1 303.0,684.9 310.8,655.9 339.8,648.1" fill="#F4B183" stroke="#3a3a3a" stroke-width="2.3" stroke-linejoin="round"/>
<polygon points="425.0,705.5 417.1,734.7 387.9,742.6 366.4,721.1 374.3,691.9 403.5,684.0" fill="#F4B183" stroke="#3a3a3a" stroke-width="2.3" stroke-linejoin="round"/>
<polygon points="466.2,661.3 458.3,690.8 428.8,698.7 407.2,677.1 415.1,647.6 444.6,639.7" fill="#fff" stroke="#3a3a3a" stroke-width="2.3" stroke-linejoin="round"/>
<polygon points="456.5,670.3 450.8,691.5 429.6,697.2 414.1,681.7 419.8,660.5 441.0,654.8" fill="#F4B183" stroke="#3a3a3a" stroke-width="2.3" stroke-linejoin="round"/>
<polygon points="73.8,768.9 67.2,793.6 42.5,800.2 24.4,782.1 31.0,757.4 55.7,750.8" fill="#F4B183" stroke="#3a3a3a" stroke-width="2.3" stroke-linejoin="round"/>
<polygon points="157.3,750.9 149.6,779.6 120.9,787.3 99.9,766.3 107.6,737.6 136.3,729.9" fill="#F4B183" stroke="#3a3a3a" stroke-width="2.3" stroke-linejoin="round"/>
<polygon points="235.6,743.9 229.0,768.6 204.3,775.2 186.2,757.1 192.8,732.4 217.5,725.8" fill="#F4B183" stroke="#3a3a3a" stroke-width="2.3" stroke-linejoin="round"/>
<polygon points="299.5,768.8 292.8,793.7 267.9,800.4 249.7,782.2 256.4,757.3 281.3,750.6" fill="#F4B183" stroke="#3a3a3a" stroke-width="2.3" stroke-linejoin="round"/>
<polygon points="380.6,757.7 373.9,782.6 349.0,789.3 330.8,771.1 337.5,746.2 362.4,739.5" fill="#F4B183" stroke="#3a3a3a" stroke-width="2.3" stroke-linejoin="round"/>
<polygon points="463.8,762.8 457.2,787.5 432.5,794.1 414.4,776.0 421.0,751.3 445.7,744.7" fill="#F4B183" stroke="#3a3a3a" stroke-width="2.3" stroke-linejoin="round"/>
</g>
<rect x="7.0" y="518.8" width="466.6" height="322.6" fill="none" stroke="#666" stroke-width="2.6"/>
<circle cx="42.9" cy="594" r="5.2" fill="#000"/>
<circle cx="43.6" cy="605.3" r="5.2" fill="#000"/>
<circle cx="40.2" cy="615.3" r="5.2" fill="#000"/>
<circle cx="168" cy="615.3" r="4.5" fill="#000"/>
<circle cx="197.9" cy="648.5" r="3.4" fill="#000"/>
<circle cx="214.5" cy="673.1" r="4.5" fill="#000"/>
<circle cx="121.8" cy="674.4" r="4.5" fill="#000"/>
<circle cx="271.7" cy="605.3" r="4.5" fill="#000"/>
<circle cx="324.4" cy="601.1" r="4.5" fill="#000"/>
<circle cx="318.9" cy="611.8" r="4.5" fill="#000"/>
<circle cx="310.7" cy="650.4" r="4.5" fill="#000"/>
<circle cx="353.8" cy="655.6" r="4.5" fill="#000"/>
<circle cx="261.7" cy="635.9" r="3.6" fill="#000"/>
<circle cx="444.4" cy="621.2" r="4.5" fill="#000"/>
<circle cx="445.5" cy="629.1" r="4.5" fill="#000"/>
<circle cx="443.8" cy="636.4" r="4.5" fill="#000"/>
<circle cx="81.5" cy="705.5" r="4.5" fill="#000"/>
<circle cx="90.1" cy="706.2" r="4.5" fill="#000"/>
<circle cx="98.8" cy="706.9" r="4.5" fill="#000"/>
<circle cx="125.6" cy="727.8" r="4.5" fill="#000"/>
<circle cx="77.8" cy="770" r="4.5" fill="#000"/>
<circle cx="87.8" cy="771.1" r="4.5" fill="#000"/>
<circle cx="95.6" cy="766.2" r="4.5" fill="#000"/>
<circle cx="163.3" cy="754.4" r="4.5" fill="#000"/>
<circle cx="171.1" cy="757.8" r="4.5" fill="#000"/>
<circle cx="180" cy="756.7" r="4.5" fill="#000"/>
<circle cx="211.2" cy="717.7" r="4.5" fill="#000"/>
<circle cx="206.5" cy="724.3" r="4.5" fill="#000"/>
<circle cx="66.7" cy="797.8" r="4.5" fill="#000"/>
<circle cx="123.3" cy="794.4" r="4.5" fill="#000"/>
<circle cx="302.5" cy="693.2" r="4.5" fill="#000"/>
<circle cx="366.4" cy="698.6" r="4.5" fill="#000"/>
<circle cx="358" cy="698.6" r="4.5" fill="#000"/>
<circle cx="417.4" cy="691.6" r="4.5" fill="#000"/>
<circle cx="386.3" cy="743.1" r="4.5" fill="#000"/>
<circle cx="381" cy="749.8" r="4.5" fill="#000"/>
<circle cx="417.8" cy="739.6" r="4.5" fill="#000"/>
<circle cx="279.9" cy="737.1" r="4.5" fill="#000"/>
<circle cx="284.4" cy="797.8" r="4.5" fill="#000"/>
<circle cx="350" cy="795.1" r="4.5" fill="#000"/>
<circle cx="355.6" cy="795.1" r="4.5" fill="#000"/>
<circle cx="428.9" cy="796" r="4.5" fill="#000"/>
<path d="M97.8 600.4L122.2 613.4M98.6 616L120.9 598.6" stroke="#548235" stroke-width="5" fill="none"/>
<path d="M33.8 671.6L58.9 685.1M35.2 688L57.3 669" stroke="#548235" stroke-width="5" fill="none"/>
<path d="M115.6 801Q124 765 127 720Q127 700 124 680Q120 655 114.5 636" stroke="#548235" stroke-width="6.4" fill="none"/>
<path d="M110 621.5L106.5 638L114 636L122 634Z" fill="#548235"/>
<path d="M126 707Q100 704.5 75 704.5L56.5 703.8" stroke="#548235" stroke-width="5" fill="none"/>
<path d="M46.9 692.2L50.2 708.6L57 703.5L62.4 698.8Z" fill="#548235"/>
<path d="M393.3 536V572Q393 602 351 617Q338 620 324.4 610Q308 594 290 592Q270 592 264 604Q258 618 263 636Q268 660 277 677Q284 686 292 691Q304 700 304 716Q304 730 302 735Q298 741 289 743" stroke="#F4220E" stroke-width="6.8" fill="none" stroke-linejoin="round"/>
<path d="M272.3 749L283.5 734L291.5 751Z" fill="#F4220E"/>
<path d="M393.3 560Q396 600 402.6 641" stroke="#F4220E" stroke-width="6.2" fill="none"/>
<path d="M402.5 648L396.5 634.5L412 634Z" fill="#F4220E"/>
<path d="M322.5 646.5L348 628.5M324.5 627L346 649" stroke="#F4220E" stroke-width="5" fill="none"/>
<path d="M389.8 664L416.3 647.1M392 643.7L415.1 665.1" stroke="#F4220E" stroke-width="5" fill="none"/>
<path d="M303.9 755.1L331.8 738.5M306.5 735.8L329.8 756.4" stroke="#F4220E" stroke-width="5" fill="none"/>
<text x="406.4" y="556.9" font-size="40.6" font-weight="bold" fill="#F4220E">Li</text>
<path d="M444.1 535.4h12.8M450.5 529v12.8" stroke="#F4220E" stroke-width="3.5" fill="none"/>
<text x="102.3" y="834" font-size="47.5" font-weight="bold" fill="#548235">e</text>
<rect x="130.8" y="811.2" width="7.2" height="3.8" fill="#548235"/>
<rect x="8" y="519.5" width="59" height="36.5" fill="#fff" fill-opacity="0.78"/>
<text x="19" y="550" font-size="29" font-weight="bold" fill="#111" text-anchor="start" textLength="37.8" lengthAdjust="spacingAndGlyphs">(b)</text>
<clipPath id="clipc"><rect x="609.6" y="517.2" width="466.6" height="323.6"/></clipPath>
<g clip-path="url(#clipc)">
<rect x="609.6" y="517.2" width="466.6" height="323.6" fill="#BDD7EE"/>
<rect x="609.6" y="800.3" width="466.6" height="45" fill="#DAA508"/>
<g transform="translate(0.0 0.0)">
<path d="M686.1 592.2L663 628" stroke="#84660A" stroke-width="3.3" fill="none" stroke-linecap="round"/>
<path d="M643.5 668L639.5 690" stroke="#84660A" stroke-width="3.3" fill="none" stroke-linecap="round"/>
<path d="M675.6 725.6Q686 742 677.8 764.4" stroke="#84660A" stroke-width="3.3" fill="none" stroke-linecap="round"/>
<path d="M712.2 786.7L717.8 777.8Q730 750 751.1 735.6Q790 708 840 686Q880 668 902.2 652.2L915 640" stroke="#84660A" stroke-width="3.3" fill="none" stroke-linecap="round"/>
<path d="M843 669L840 686.7Q834 702 832.5 724Q833 740 840 751Q852 768 880 777Q900 784 925.6 783.3" stroke="#84660A" stroke-width="3.3" fill="none" stroke-linecap="round"/>
<path d="M873.3 585.6L891 601" stroke="#84660A" stroke-width="3.3" fill="none" stroke-linecap="round"/>
<path d="M939.1 603.7L939.8 646" stroke="#84660A" stroke-width="3.3" fill="none" stroke-linecap="round"/>
<path d="M1032.6 639.7L1046.4 615.2" stroke="#84660A" stroke-width="3.3" fill="none" stroke-linecap="round"/>
<path d="M957.6 738Q958 722 968 721Q976 721 981 729" stroke="#84660A" stroke-width="3.3" fill="none" stroke-linecap="round"/>
<path d="M1022.2 728.9L1028.9 744.4" stroke="#84660A" stroke-width="3.3" fill="none" stroke-linecap="round"/>
<path d="M1046.7 788.9L1053.3 801.1" stroke="#84660A" stroke-width="3.3" fill="none" stroke-linecap="round"/>
<path d="M954.4 786.7V801" stroke="#84660A" stroke-width="3.3" fill="none" stroke-linecap="round"/>
<path d="M743.7 643.6L750.6 645.1" stroke="#84660A" stroke-width="3.3" fill="none" stroke-linecap="round"/>
<path d="M798.9 643.6L806 643.8" stroke="#84660A" stroke-width="3.3" fill="none" stroke-linecap="round"/>
<path d="M957.6 697Q972 683 985 680Q992 680 997.4 687" stroke="#84660A" stroke-width="3.3" fill="none" stroke-linecap="round"/>
<path d="M1008 687.2L1011.2 678" stroke="#84660A" stroke-width="3.3" fill="none" stroke-linecap="round"/>
<path d="M718.3 603L721.4 613.7" stroke="#84660A" stroke-width="3.3" fill="none" stroke-linecap="round"/>
</g>
<polygon points="665.5,560.5 658.8,585.4 633.9,592.1 615.7,573.9 622.4,549.0 647.3,542.3" fill="#F4B183" stroke="#3a3a3a" stroke-width="2.3" stroke-linejoin="round"/>
<polygon points="731.1,571.8 724.4,596.8 699.4,603.5 681.1,585.2 687.8,560.2 712.8,553.5" fill="#F4B183" stroke="#3a3a3a" stroke-width="2.3" stroke-linejoin="round"/>
<polygon points="800.5,579.7 793.7,605.1 768.3,611.9 749.7,593.3 756.5,567.9 781.9,561.1" fill="#F4B183" stroke="#3a3a3a" stroke-width="2.3" stroke-linejoin="round"/>
<polygon points="875.1,569.3 868.4,594.2 843.5,600.9 825.3,582.7 832.0,557.8 856.9,551.1" fill="#F4B183" stroke="#3a3a3a" stroke-width="2.3" stroke-linejoin="round"/>
<polygon points="977.7,568.2 969.7,598.0 939.9,606.0 918.1,584.2 926.1,554.4 955.9,546.4" fill="#F4B183" stroke="#3a3a3a" stroke-width="2.3" stroke-linejoin="round"/>
<polygon points="1063.9,586.4 1057.1,611.8 1031.7,618.6 1013.1,600.0 1019.9,574.6 1045.3,567.8" fill="#F4B183" stroke="#3a3a3a" stroke-width="2.3" stroke-linejoin="round"/>
<polygon points="671.2,637.9 664.5,663.0 639.4,669.7 621.0,651.3 627.7,626.2 652.8,619.5" fill="#F4B183" stroke="#3a3a3a" stroke-width="2.3" stroke-linejoin="round"/>
<polygon points="745.5,635.5 737.6,665.0 708.1,672.9 686.5,651.3 694.4,621.8 723.9,613.9" fill="#F4B183" stroke="#3a3a3a" stroke-width="2.3" stroke-linejoin="round"/>
<polygon points="800.8,633.2 794.0,658.5 768.7,665.3 750.2,646.8 757.0,621.5 782.3,614.7" fill="#F4B183" stroke="#3a3a3a" stroke-width="2.3" stroke-linejoin="round"/>
<polygon points="862.4,636.4 854.6,665.4 825.6,673.2 804.4,652.0 812.2,623.0 841.2,615.2" fill="#F4B183" stroke="#3a3a3a" stroke-width="2.3" stroke-linejoin="round"/>
<path transform="translate(833.4 644.2)" d="M2.5 -1.0L-8.9 -10.7L-19.3 -17.6L-11.1 -8.3L0.1 1.8Z" fill="#CFE0EE"/>
<path transform="translate(833.4 644.2)" d="M3.2 0.7L4.9 -12.9L4.7 -24.2L1.4 -13.4L-0.6 0.1Z" fill="#CFE0EE"/>
<path transform="translate(833.4 644.2)" d="M2.0 2.2L15.8 -3.1L26.6 -8.9L14.6 -6.4L0.6 -1.4Z" fill="#CFE0EE"/>
<path transform="translate(833.4 644.2)" d="M0.2 1.5L10.6 11.6L19.9 19.0L12.5 9.7L2.4 -0.7Z" fill="#CFE0EE"/>
<path transform="translate(833.4 644.2)" d="M-0.3 0.4L-0.1 14.3L1.3 25.7L2.7 14.3L2.9 0.4Z" fill="#CFE0EE"/>
<path transform="translate(833.4 644.2)" d="M0.9 -0.8L-14.0 4.0L-25.9 9.0L-13.3 6.2L1.7 1.6Z" fill="#CFE0EE"/>
<circle cx="834.7" cy="644.6" r="3.0" fill="#CFE0EE"/>
<polygon points="920.8,617.2 914.4,641.4 890.2,647.8 872.6,630.2 879.0,606.0 903.2,599.6" fill="#F4B183" stroke="#3a3a3a" stroke-width="2.3" stroke-linejoin="round"/>
<polygon points="999.1,627.0 992.6,651.6 968.0,658.1 950.1,640.2 956.6,615.6 981.2,609.1" fill="#F4B183" stroke="#3a3a3a" stroke-width="2.3" stroke-linejoin="round"/>
<polygon points="678.5,703.0 671.9,727.6 647.3,734.2 629.3,716.2 635.9,691.6 660.5,685.0" fill="#F4B183" stroke="#3a3a3a" stroke-width="2.3" stroke-linejoin="round"/>
<polygon points="753.5,690.0 747.0,714.6 722.4,721.1 704.5,703.2 711.0,678.6 735.6,672.1" fill="#F4B183" stroke="#3a3a3a" stroke-width="2.3" stroke-linejoin="round"/>
<polygon points="820.8,683.3 814.1,708.4 789.0,715.1 770.6,696.7 777.3,671.6 802.4,664.9" fill="#F4B183" stroke="#3a3a3a" stroke-width="2.3" stroke-linejoin="round"/>
<path transform="translate(795.7 690.0)" d="M-21.9 3.1L15.3 -11.6M-4 -16.9L1.3 5.1L6.6 22.3M-21.9 3.1L0.7 10.4L17.3 17.7" stroke="#CFE0EE" stroke-width="2.7" fill="none" stroke-linecap="round" stroke-linejoin="round"/>
<polygon points="898.6,704.6 892.0,729.3 867.3,735.9 849.2,717.8 855.8,693.1 880.5,686.5" fill="#F4B183" stroke="#3a3a3a" stroke-width="2.3" stroke-linejoin="round"/>
<polygon points="961.1,667.1 956.0,696.4 928.0,706.5 905.3,687.5 910.4,658.2 938.4,648.1" fill="none" stroke="#444" stroke-width="1.8" stroke-linejoin="round"/>
<polygon points="952.7,676.8 947.2,697.3 926.7,702.8 911.7,687.8 917.2,667.3 937.7,661.8" fill="#F4B183" stroke="#3a3a3a" stroke-width="2.3" stroke-linejoin="round"/>
<polygon points="1027.6,703.9 1019.7,733.1 990.5,741.0 969.0,719.5 976.9,690.3 1006.1,682.4" fill="#F4B183" stroke="#3a3a3a" stroke-width="2.3" stroke-linejoin="round"/>
<polygon points="1068.8,659.7 1060.9,689.2 1031.4,697.1 1009.8,675.5 1017.7,646.0 1047.2,638.1" fill="#F4B183" stroke="#3a3a3a" stroke-width="2.3" stroke-linejoin="round"/>
<polygon points="676.4,767.3 669.8,792.0 645.1,798.6 627.0,780.5 633.6,755.8 658.3,749.2" fill="#F4B183" stroke="#3a3a3a" stroke-width="2.3" stroke-linejoin="round"/>
<polygon points="760.9,747.8 753.2,776.5 724.5,784.2 703.5,763.2 711.2,734.5 739.9,726.8" fill="#F4B183" stroke="#3a3a3a" stroke-width="2.3" stroke-linejoin="round"/>
<polygon points="838.2,742.3 831.6,767.0 806.9,773.6 788.8,755.5 795.4,730.8 820.1,724.2" fill="#F4B183" stroke="#3a3a3a" stroke-width="2.3" stroke-linejoin="round"/>
<polygon points="902.1,767.2 895.4,792.1 870.5,798.8 852.3,780.6 859.0,755.7 883.9,749.0" fill="#F4B183" stroke="#3a3a3a" stroke-width="2.3" stroke-linejoin="round"/>
<polygon points="983.2,756.1 976.5,781.0 951.6,787.7 933.4,769.5 940.1,744.6 965.0,737.9" fill="#F4B183" stroke="#3a3a3a" stroke-width="2.3" stroke-linejoin="round"/>
<polygon points="1066.4,761.2 1059.8,785.9 1035.1,792.5 1017.0,774.4 1023.6,749.7 1048.3,743.1" fill="#F4B183" stroke="#3a3a3a" stroke-width="2.3" stroke-linejoin="round"/>
</g>
<rect x="609.6" y="517.2" width="466.6" height="323.6" fill="none" stroke="#666" stroke-width="2.6"/>
<circle cx="645.6" cy="592.2" r="5.2" fill="#000"/>
<circle cx="646" cy="603.8" r="5.2" fill="#000"/>
<circle cx="642.2" cy="613.3" r="5.2" fill="#000"/>
<circle cx="709.9" cy="604.5" r="4.5" fill="#000"/>
<circle cx="709.9" cy="613.7" r="4.5" fill="#000"/>
<circle cx="651.1" cy="668.9" r="4.5" fill="#000"/>
<circle cx="654.4" cy="678.9" r="4.5" fill="#000"/>
<circle cx="800.4" cy="647.4" r="3.5" fill="#000"/>
<circle cx="816.5" cy="672" r="4.8" fill="#000"/>
<circle cx="790.4" cy="664.3" r="4.5" fill="#000"/>
<circle cx="724.5" cy="672.7" r="4.5" fill="#000"/>
<circle cx="771.3" cy="613.7" r="4.5" fill="#000"/>
<circle cx="872.2" cy="597.8" r="4.5" fill="#000"/>
<circle cx="873.8" cy="604.4" r="4.5" fill="#000"/>
<circle cx="926.8" cy="599.8" r="4.5" fill="#000"/>
<circle cx="922.2" cy="609" r="4.5" fill="#000"/>
<circle cx="866.2" cy="634" r="3.8" fill="#000"/>
<circle cx="913" cy="648.9" r="4.5" fill="#000"/>
<circle cx="956" cy="654.3" r="4.5" fill="#000"/>
<circle cx="1043.4" cy="618.2" r="4.5" fill="#000"/>
<circle cx="1048" cy="625.9" r="4.5" fill="#000"/>
<circle cx="1044.9" cy="635.1" r="4.5" fill="#000"/>
<circle cx="653.3" cy="682.2" r="4.5" fill="#000"/>
<circle cx="683.8" cy="703.4" r="4.5" fill="#000"/>
<circle cx="693" cy="703.4" r="4.5" fill="#000"/>
<circle cx="702.2" cy="704.2" r="4.5" fill="#000"/>
<circle cx="726.7" cy="726.7" r="4.5" fill="#000"/>
<circle cx="681.1" cy="768.4" r="4.5" fill="#000"/>
<circle cx="690" cy="769.6" r="4.5" fill="#000"/>
<circle cx="697.8" cy="764.4" r="4.5" fill="#000"/>
<circle cx="765.6" cy="752.9" r="4.5" fill="#000"/>
<circle cx="774.4" cy="755.6" r="4.5" fill="#000"/>
<circle cx="782.7" cy="755.1" r="4.5" fill="#000"/>
<circle cx="814.4" cy="715.6" r="4.5" fill="#000"/>
<circle cx="808.9" cy="722.2" r="4.5" fill="#000"/>
<circle cx="806.7" cy="776.7" r="4.5" fill="#000"/>
<circle cx="803.3" cy="784.4" r="4.5" fill="#000"/>
<circle cx="799.6" cy="792.9" r="4.5" fill="#000"/>
<circle cx="668.9" cy="796" r="4.5" fill="#000"/>
<circle cx="725.6" cy="793.3" r="4.5" fill="#000"/>
<circle cx="904.4" cy="693.3" r="4.5" fill="#000"/>
<circle cx="901.1" cy="700" r="4.5" fill="#000"/>
<circle cx="882.2" cy="735.6" r="4.5" fill="#000"/>
<circle cx="882.2" cy="744.4" r="4.5" fill="#000"/>
<circle cx="961.1" cy="696.7" r="4.5" fill="#000"/>
<circle cx="970" cy="696.7" r="4.5" fill="#000"/>
<circle cx="1018.8" cy="688" r="4.5" fill="#000"/>
<circle cx="988.4" cy="742.2" r="4.5" fill="#000"/>
<circle cx="983.3" cy="748.4" r="4.5" fill="#000"/>
<circle cx="1018.9" cy="738.2" r="4.5" fill="#000"/>
<circle cx="1023.3" cy="744.4" r="4.5" fill="#000"/>
<circle cx="886.7" cy="795.6" r="4.5" fill="#000"/>
<circle cx="951.1" cy="793.8" r="4.5" fill="#000"/>
<circle cx="958.9" cy="793.8" r="4.5" fill="#000"/>
<circle cx="1031.6" cy="795.1" r="4.5" fill="#000"/>
<path d="M725.6 793.3Q733 750 728.3 710Q726 680 720.6 640Q718 622 714.5 603" stroke="#548235" stroke-width="5.6" fill="none"/>
<path d="M711.9 586.5L706.5 602.5L714 600.5L720.5 600Z" fill="#548235"/>
<path d="M767.8 795.6Q796 766 801.5 724Q803 705 797.5 686Q791 666 779 644Q773 630 771 613" stroke="#548235" stroke-width="5.6" fill="none"/>
<path d="M770.5 597.3L762 612.5L770.5 610.5L777.5 611.5Z" fill="#548235"/>
<path d="M1001.5 547L980.5 593Q968 602 958 610Q940 626 925.3 644.3Q918 655 914 668L912 677" stroke="#F4220E" stroke-width="6.6" fill="none" stroke-linejoin="round"/>
<path d="M908.6 685.5L905.5 668.5L921.5 673.5Z" fill="#F4220E"/>
<path d="M980.5 593Q986 600 991.2 604.4Q1003 614 1008 626Q1013 642 1003 656Q994 668 982 678Q964 696 956.5 722L954 730" stroke="#F4220E" stroke-width="6.2" fill="none" stroke-linejoin="round"/>
<path d="M950.4 737.5L947.6 720.5L964.5 727.5Z" fill="#F4220E"/>
<text x="1008.7" y="557.4" font-size="40.6" font-weight="bold" fill="#F4220E">Li</text>
<path d="M1046.6 536.3h12.8M1053 529.9v12.8" stroke="#F4220E" stroke-width="3.5" fill="none"/>
<text x="732.2" y="832" font-size="47.5" font-weight="bold" fill="#548235">e</text>
<rect x="760" y="807.2" width="7.8" height="3.9" fill="#548235"/>
<rect x="610.7" y="518.3" width="59" height="36.5" fill="#fff" fill-opacity="0.78"/>
<text x="622" y="548" font-size="29" font-weight="bold" fill="#111" text-anchor="start" textLength="37" lengthAdjust="spacingAndGlyphs">(c)</text>
<polygon points="568.9,538.1 562.2,563.2 537.1,569.9 518.7,551.5 525.4,526.4 550.5,519.7" fill="#F4B183" stroke="#3a3a3a" stroke-width="1.8" stroke-linejoin="round"/>
<text x="543.5" y="589.5" font-size="20.6" font-weight="normal" fill="#262626" text-anchor="middle" textLength="55" lengthAdjust="spacingAndGlyphs">Active</text>
<text x="543.5" y="613.9" font-size="20.6" font-weight="normal" fill="#262626" text-anchor="middle" textLength="85" lengthAdjust="spacingAndGlyphs">materials</text>
<circle cx="543.8" cy="661.8" r="22" fill="#FFD84E" stroke="#C4C2B8" stroke-width="1.6"/>
<text x="543.5" y="703.4" font-size="20.6" font-weight="normal" fill="#262626" text-anchor="middle" textLength="45" lengthAdjust="spacingAndGlyphs">Solid</text>
<text x="543.5" y="727.4" font-size="20.6" font-weight="normal" fill="#262626" text-anchor="middle" textLength="93" lengthAdjust="spacingAndGlyphs">electrolyte</text>
<rect x="521.9" y="754.9" width="44.8" height="26.1" fill="#BDD7EE"/>
<text x="543.5" y="802.5" font-size="20.6" font-weight="normal" fill="#262626" text-anchor="middle" textLength="54" lengthAdjust="spacingAndGlyphs">Liquid</text>
<text x="543.5" y="826.5" font-size="20.6" font-weight="normal" fill="#262626" text-anchor="middle" textLength="93" lengthAdjust="spacingAndGlyphs">electrolyte</text>
<text x="83.6" y="877" font-size="28.2" font-weight="bold" fill="#111" text-anchor="start" textLength="312" lengthAdjust="spacingAndGlyphs">All-solid-state batteries</text>
<circle cx="13.3" cy="901.5" r="3.1" fill="#1a1a1a"/>
<text x="30.2" y="909.4" font-size="26" fill="#1a1a1a" textLength="418.5" lengthAdjust="spacingAndGlyphs">Inhomogeneous, discontinuous Li<tspan font-size="16" dy="-9">+</tspan><tspan dy="9">/e</tspan><tspan font-size="16" dy="-9">-</tspan></text>
<text x="30.2" y="939.7" font-size="26" font-weight="normal" fill="#1a1a1a" text-anchor="start" textLength="214.2" lengthAdjust="spacingAndGlyphs">transport pathways</text>
<circle cx="13.3" cy="962.5" r="3.1" fill="#1a1a1a"/>
<text x="30.2" y="969.4" font-size="26" font-weight="normal" fill="#1a1a1a" text-anchor="start" textLength="339.6" lengthAdjust="spacingAndGlyphs">Unavoidable voids and cracks</text>
<text x="662.6" y="877.3" font-size="28.2" font-weight="bold" fill="#111" text-anchor="start" textLength="358.7" lengthAdjust="spacingAndGlyphs">Liquid electrolyte batteries</text>
<circle cx="614.7" cy="901.5" r="3.1" fill="#1a1a1a"/>
<text x="645" y="909.6" font-size="26" fill="#1a1a1a" textLength="402.5" lengthAdjust="spacingAndGlyphs">Continuous Li<tspan font-size="16" dy="-9">+</tspan><tspan dy="9">/e</tspan><tspan font-size="16" dy="-9">-</tspan><tspan dy="9"> transport pathway</tspan></text>
<circle cx="614.7" cy="929.8" r="3.1" fill="#1a1a1a"/>
<text x="645" y="940.4" font-size="26" font-weight="normal" fill="#1a1a1a" text-anchor="start" textLength="320.5" lengthAdjust="spacingAndGlyphs">The electrolyte infiltrates the</text>
<text x="645" y="970.4" font-size="26" font-weight="normal" fill="#1a1a1a" text-anchor="start" textLength="352" lengthAdjust="spacingAndGlyphs">electrode and penetrates pores</text>
</svg>
</body></html>
